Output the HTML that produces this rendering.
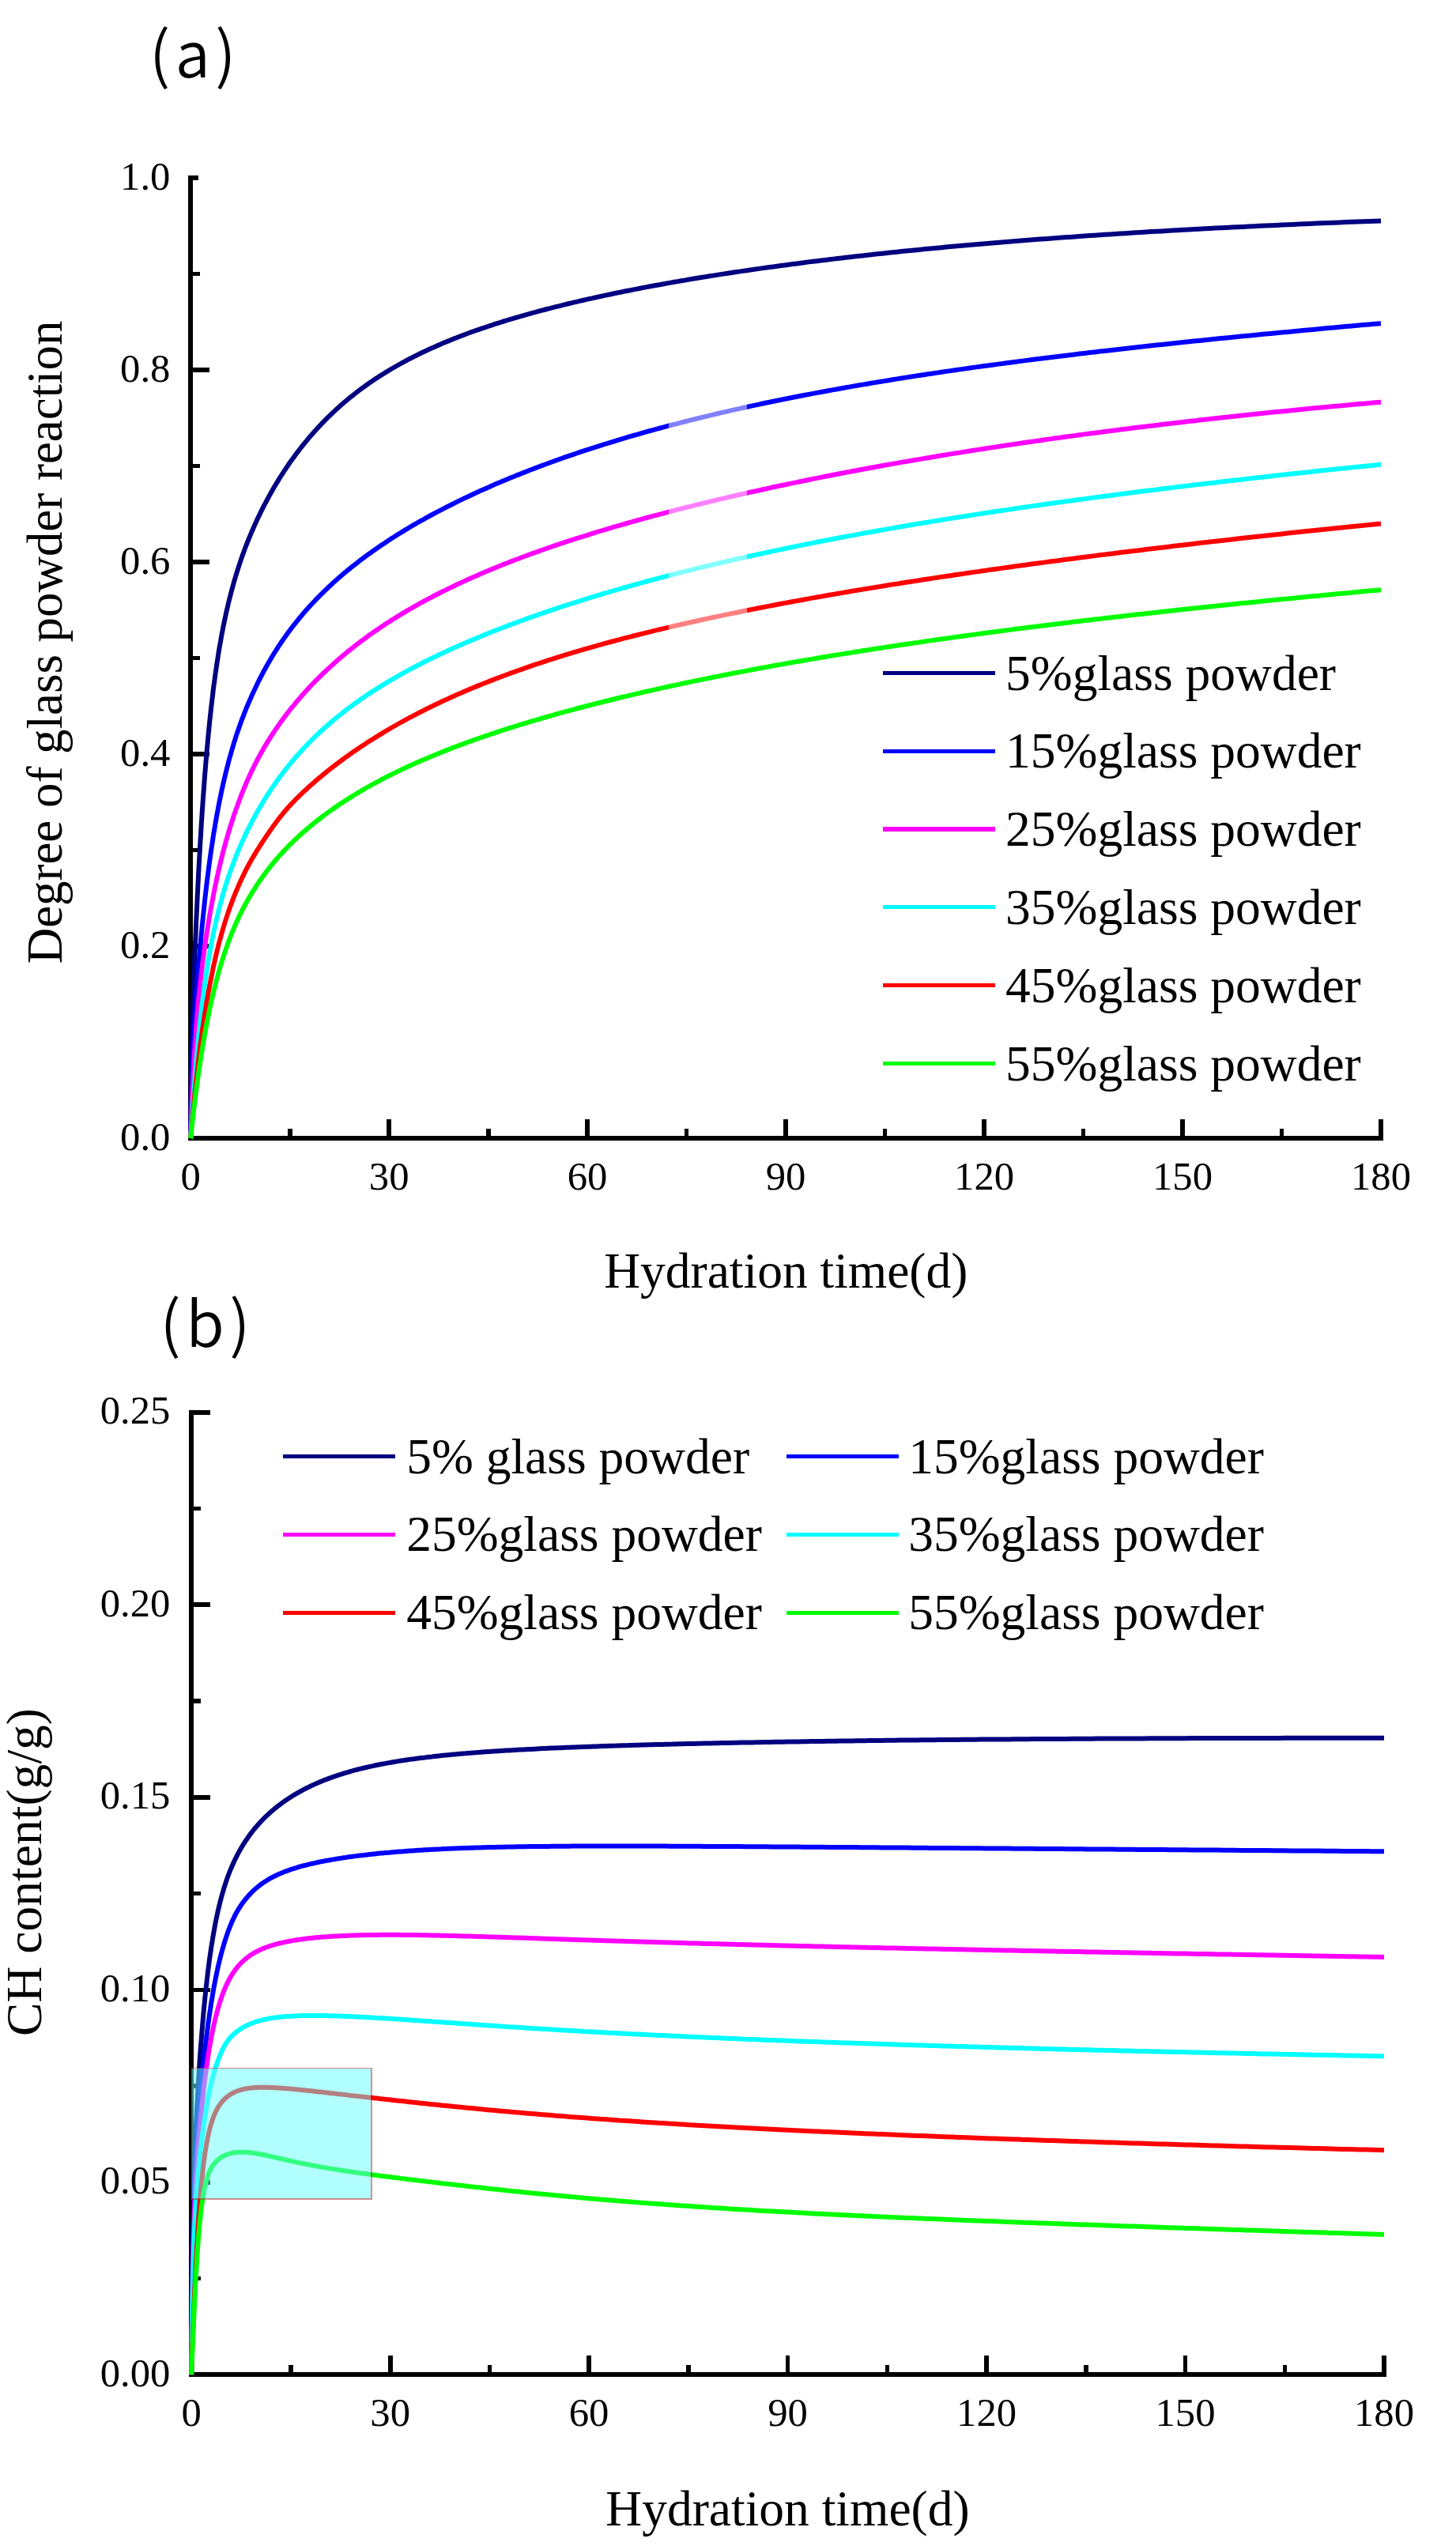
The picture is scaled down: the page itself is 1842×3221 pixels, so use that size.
<!DOCTYPE html>
<html lang="en"><head><meta charset="utf-8"><title>Glass powder hydration</title>
<style>html,body{margin:0;padding:0;background:#fff}svg{display:block}text{fill:#000}</style></head><body>
<svg width="1842" height="3221" viewBox="0 0 1842 3221">
<rect width="1842" height="3221" fill="#fff"/>
<g shape-rendering="crispEdges" fill="#000">
<rect x="238.3" y="222.1" width="5.8" height="1220.8"/>
<rect x="238.3" y="1437.1" width="1511.6" height="5.8"/>
<rect x="241.2" y="1437.2" width="24" height="5.6"/>
<rect x="241.2" y="1315.7" width="12" height="5.6"/>
<rect x="241.2" y="1194.2" width="24" height="5.6"/>
<rect x="241.2" y="1072.7" width="12" height="5.6"/>
<rect x="241.2" y="951.2" width="24" height="5.6"/>
<rect x="241.2" y="829.7" width="12" height="5.6"/>
<rect x="241.2" y="708.2" width="24" height="5.6"/>
<rect x="241.2" y="586.7" width="12" height="5.6"/>
<rect x="241.2" y="465.2" width="24" height="5.6"/>
<rect x="241.2" y="343.7" width="12" height="5.6"/>
<rect x="241.2" y="222.2" width="9.5" height="5.6"/>
<rect x="238.4" y="1416.0" width="5.6" height="24"/>
<rect x="363.9" y="1428.0" width="5.6" height="12"/>
<rect x="489.4" y="1416.0" width="5.6" height="24"/>
<rect x="614.9" y="1428.0" width="5.6" height="12"/>
<rect x="740.3" y="1416.0" width="5.6" height="24"/>
<rect x="865.8" y="1428.0" width="5.6" height="12"/>
<rect x="991.3" y="1416.0" width="5.6" height="24"/>
<rect x="1116.8" y="1428.0" width="5.6" height="12"/>
<rect x="1242.3" y="1416.0" width="5.6" height="24"/>
<rect x="1367.8" y="1428.0" width="5.6" height="12"/>
<rect x="1493.2" y="1416.0" width="5.6" height="24"/>
<rect x="1618.7" y="1428.0" width="5.6" height="12"/>
<rect x="1744.2" y="1416.0" width="5.6" height="24"/>
</g>
<g font-family="'Liberation Serif','Times New Roman',serif" font-size="50.7">
<text x="215.4" y="1455.2" text-anchor="end">0.0</text>
<text x="215.4" y="1212.2" text-anchor="end">0.2</text>
<text x="215.4" y="969.2" text-anchor="end">0.4</text>
<text x="215.4" y="726.2" text-anchor="end">0.6</text>
<text x="215.4" y="483.2" text-anchor="end">0.8</text>
<text x="215.4" y="240.2" text-anchor="end">1.0</text>
<text x="241.2" y="1504.7" text-anchor="middle">0</text>
<text x="492.2" y="1504.7" text-anchor="middle">30</text>
<text x="743.1" y="1504.7" text-anchor="middle">60</text>
<text x="994.1" y="1504.7" text-anchor="middle">90</text>
<text x="1245.1" y="1504.7" text-anchor="middle">120</text>
<text x="1496.0" y="1504.7" text-anchor="middle">150</text>
<text x="1747.0" y="1504.7" text-anchor="middle">180</text>
</g>
<g fill="none" stroke-width="6" stroke-linejoin="round">
<path d="M241.2 1440.0L241.2 1440.0L241.2 1439.8L241.2 1439.4L241.2 1438.9L241.2 1438.0L241.2 1436.9L241.2 1435.5L241.2 1433.7L241.3 1431.6L241.3 1429.2L241.3 1426.4L241.3 1423.3L241.4 1419.9L241.4 1416.1L241.4 1412.1L241.5 1407.8L241.5 1403.2L241.6 1398.3L241.6 1393.3L241.7 1388.1L241.7 1382.8L241.8 1377.3L241.9 1371.8L242.0 1366.1L242.0 1360.5L242.1 1354.8L242.2 1349.1L242.3 1343.4L242.4 1337.7L242.5 1332.1L242.6 1326.5L242.8 1320.9L242.9 1315.4L243.0 1309.9L243.2 1304.5L243.3 1299.0L243.5 1293.6L243.6 1288.1L243.8 1282.7L243.9 1277.2L244.1 1271.7L244.3 1266.2L244.5 1260.6L244.7 1255.0L244.9 1249.3L245.1 1243.6L245.3 1237.7L245.5 1231.8L245.7 1225.8L246.0 1219.7L246.2 1213.6L246.5 1207.4L246.7 1201.0L247.0 1194.7L247.3 1188.2L247.6 1181.6L247.8 1175.0L248.1 1168.4L248.4 1161.6L248.7 1154.8L249.1 1148.0L249.4 1141.1L249.7 1134.1L250.1 1127.1L250.4 1120.1L250.8 1113.0L251.1 1106.0L251.5 1098.9L251.9 1091.8L252.3 1084.6L252.7 1077.5L253.1 1070.4L253.5 1063.3L254.0 1056.1L254.4 1049.0L254.8 1041.9L255.3 1034.9L255.7 1027.8L256.2 1020.8L256.7 1013.8L257.2 1006.9L257.7 1000.0L258.2 993.1L258.7 986.3L259.2 979.5L259.8 972.8L260.3 966.2L260.9 959.6L261.4 953.0L262.0 946.6L262.6 940.1L263.2 933.8L263.8 927.5L264.4 921.3L265.0 915.2L265.6 909.1L266.3 903.1L266.9 897.2L267.6 891.3L268.3 885.6L269.0 879.9L269.6 874.3L270.3 868.7L271.1 863.3L271.8 857.9L272.5 852.6L273.3 847.3L274.0 842.2L274.8 837.1L275.6 832.1L276.3 827.1L277.1 822.3L277.9 817.5L278.8 812.8L279.6 808.1L280.4 803.5L281.3 799.0L282.1 794.6L283.0 790.2L283.9 785.9L284.8 781.6L285.7 777.4L286.6 773.3L287.6 769.2L288.5 765.2L289.4 761.2L290.4 757.3L291.4 753.5L292.4 749.6L293.4 745.9L294.4 742.2L295.4 738.5L296.4 734.9L297.5 731.3L298.5 727.8L299.6 724.3L300.7 720.8L301.8 717.4L302.9 714.1L304.0 710.7L305.1 707.4L306.2 704.1L307.4 700.9L308.6 697.7L309.7 694.5L310.9 691.4L312.1 688.3L313.3 685.2L314.6 682.2L315.8 679.1L317.1 676.1L318.3 673.2L319.6 670.2L320.9 667.3L322.2 664.3L323.5 661.5L324.8 658.6L326.1 655.7L327.5 652.9L328.9 650.1L330.2 647.2L331.6 644.5L333.0 641.7L334.4 638.9L335.9 636.2L337.3 633.5L338.8 630.8L340.2 628.1L341.7 625.4L343.2 622.7L344.7 620.1L346.2 617.4L347.8 614.8L349.3 612.2L350.9 609.6L352.4 607.1L354.0 604.5L355.6 602.0L357.3 599.4L358.9 596.9L360.5 594.4L362.2 592.0L363.8 589.5L365.5 587.0L367.2 584.6L368.9 582.2L370.7 579.8L372.4 577.4L374.1 575.0L375.9 572.6L377.7 570.3L379.5 568.0L381.3 565.7L383.1 563.4L384.9 561.1L386.8 558.8L388.7 556.6L390.5 554.3L392.4 552.1L394.3 549.9L396.3 547.7L398.2 545.5L400.1 543.4L402.1 541.2L404.1 539.1L406.1 537.0L408.1 534.9L410.1 532.8L412.2 530.7L414.2 528.7L416.3 526.7L418.4 524.6L420.5 522.6L422.6 520.6L424.7 518.7L426.8 516.7L429.0 514.8L431.2 512.8L433.3 510.9L435.5 509.0L437.8 507.2L440.0 505.3L442.2 503.4L444.5 501.6L446.8 499.8L449.1 498.0L451.4 496.2L453.7 494.4L456.0 492.7L458.4 490.9L460.8 489.2L463.1 487.5L465.5 485.8L468.0 484.1L470.4 482.4L472.8 480.8L475.3 479.1L477.8 477.5L480.3 475.9L482.8 474.3L485.3 472.7L487.8 471.1L490.4 469.6L493.0 468.0L495.5 466.5L498.2 465.0L500.8 463.5L503.4 462.0L506.1 460.5L508.7 459.0L511.4 457.6L514.1 456.1L516.8 454.7L519.6 453.3L522.3 451.9L525.1 450.5L527.8 449.1L530.6 447.7L533.5 446.3L536.3 445.0L539.1 443.7L542.0 442.3L544.9 441.0L547.8 439.7L550.7 438.4L553.6 437.1L556.6 435.9L559.5 434.6L562.5 433.3L565.5 432.1L568.5 430.9L571.5 429.6L574.6 428.4L577.6 427.2L580.7 426.0L583.8 424.8L586.9 423.7L590.0 422.5L593.2 421.3L596.3 420.2L599.5 419.0L602.7 417.9L605.9 416.8L609.2 415.7L612.4 414.6L615.7 413.5L619.0 412.4L622.3 411.3L625.6 410.2L628.9 409.1L632.3 408.1L635.6 407.0L639.0 406.0L642.4 404.9L645.8 403.9L649.3 402.9L652.7 401.8L656.2 400.8L659.7 399.8L663.2 398.8L666.7 397.8L670.3 396.8L673.8 395.8L677.4 394.9L681.0 393.9L684.6 392.9L688.3 392.0L691.9 391.0L695.6 390.1L699.3 389.1L703.0 388.2L706.7 387.3L710.4 386.3L714.2 385.4L718.0 384.5L721.7 383.6L725.6 382.7L729.4 381.8L733.2 380.9L737.1 380.0L741.0 379.1L744.9 378.2L748.8 377.4L752.7 376.5L756.7 375.6L760.7 374.8L764.7 373.9L768.7 373.0L772.7 372.2L776.8 371.3L780.8 370.5L784.9 369.7L789.0 368.8L793.1 368.0L797.3 367.2L801.4 366.4L805.6 365.6L809.8 364.7L814.0 363.9L818.2 363.1L822.5 362.3L826.8 361.5L831.1 360.7L835.4 360.0L839.7 359.2L844.0 358.4L848.4 357.6L852.8 356.8L857.2 356.1L861.6 355.3L866.1 354.6L870.5 353.8L875.0 353.0L879.5 352.3L884.0 351.5L888.6 350.8L893.1 350.1L897.7 349.3L902.3 348.6L906.9 347.9L911.5 347.1L916.2 346.4L920.8 345.7L925.5 345.0L930.2 344.3L935.0 343.6L939.7 342.9L944.5 342.2L949.3 341.5L954.1 340.8L958.9 340.1L963.8 339.4L968.6 338.7L973.5 338.0L978.4 337.4L983.3 336.7L988.3 336.0L993.2 335.4L998.2 334.7L1003.2 334.0L1008.3 333.4L1013.3 332.7L1018.4 332.1L1023.4 331.4L1028.5 330.8L1033.7 330.2L1038.8 329.5L1044.0 328.9L1049.2 328.3L1054.4 327.6L1059.6 327.0L1064.8 326.4L1070.1 325.8L1075.4 325.2L1080.7 324.6L1086.0 324.0L1091.3 323.4L1096.7 322.8L1102.1 322.2L1107.5 321.6L1112.9 321.0L1118.4 320.4L1123.8 319.8L1129.3 319.3L1134.8 318.7L1140.3 318.1L1145.9 317.6L1151.5 317.0L1157.0 316.4L1162.7 315.9L1168.3 315.3L1173.9 314.8L1179.6 314.2L1185.3 313.7L1191.0 313.2L1196.7 312.6L1202.5 312.1L1208.3 311.6L1214.1 311.0L1219.9 310.5L1225.7 310.0L1231.6 309.5L1237.4 309.0L1243.3 308.5L1249.3 308.0L1255.2 307.5L1261.2 307.0L1267.1 306.5L1273.2 306.0L1279.2 305.5L1285.2 305.0L1291.3 304.5L1297.4 304.0L1303.5 303.6L1309.6 303.1L1315.8 302.6L1321.9 302.2L1328.1 301.7L1334.3 301.2L1340.6 300.8L1346.8 300.3L1353.1 299.9L1359.4 299.4L1365.7 299.0L1372.1 298.6L1378.4 298.1L1384.8 297.7L1391.2 297.3L1397.7 296.8L1404.1 296.4L1410.6 296.0L1417.1 295.6L1423.6 295.2L1430.1 294.8L1436.7 294.3L1443.3 293.9L1449.9 293.5L1456.5 293.1L1463.1 292.8L1469.8 292.4L1476.5 292.0L1483.2 291.6L1489.9 291.2L1496.7 290.8L1503.5 290.5L1510.3 290.1L1517.1 289.7L1523.9 289.3L1530.8 289.0L1537.7 288.6L1544.6 288.3L1551.5 287.9L1558.5 287.6L1565.4 287.2L1572.4 286.9L1579.4 286.5L1586.5 286.2L1593.5 285.8L1600.6 285.5L1607.7 285.2L1614.9 284.9L1622.0 284.5L1629.2 284.2L1636.4 283.9L1643.6 283.6L1650.8 283.3L1658.1 282.9L1665.4 282.6L1672.7 282.3L1680.0 282.0L1687.4 281.7L1694.7 281.4L1702.1 281.1L1709.6 280.8L1717.0 280.6L1724.5 280.3L1732.0 280.0L1739.5 279.7L1747.0 279.4" stroke="#000080"/>
<path d="M241.2 1440.0L241.2 1440.0L241.2 1439.8L241.2 1439.6L241.2 1439.2L241.2 1438.5L241.2 1437.7L241.2 1436.6L241.2 1435.3L241.3 1433.7L241.3 1431.9L241.3 1429.9L241.3 1427.6L241.4 1425.0L241.4 1422.2L241.4 1419.3L241.5 1416.1L241.5 1412.7L241.6 1409.2L241.6 1405.5L241.7 1401.8L241.7 1397.9L241.8 1394.0L241.9 1390.1L242.0 1386.1L242.0 1382.1L242.1 1378.2L242.2 1374.3L242.3 1370.4L242.4 1366.6L242.5 1362.8L242.6 1359.1L242.8 1355.4L242.9 1351.8L243.0 1348.3L243.2 1344.8L243.3 1341.4L243.5 1338.0L243.6 1334.6L243.8 1331.3L243.9 1327.9L244.1 1324.6L244.3 1321.3L244.5 1317.9L244.7 1314.5L244.9 1311.1L245.1 1307.7L245.3 1304.2L245.5 1300.6L245.7 1297.0L246.0 1293.4L246.2 1289.7L246.5 1285.9L246.7 1282.1L247.0 1278.3L247.3 1274.3L247.6 1270.3L247.8 1266.3L248.1 1262.2L248.4 1258.0L248.7 1253.8L249.1 1249.5L249.4 1245.2L249.7 1240.9L250.1 1236.5L250.4 1232.0L250.8 1227.5L251.1 1223.0L251.5 1218.5L251.9 1213.9L252.3 1209.3L252.7 1204.6L253.1 1199.9L253.5 1195.2L254.0 1190.5L254.4 1185.8L254.8 1181.1L255.3 1176.3L255.7 1171.5L256.2 1166.7L256.7 1162.0L257.2 1157.2L257.7 1152.4L258.2 1147.6L258.7 1142.8L259.2 1138.0L259.8 1133.2L260.3 1128.5L260.9 1123.7L261.4 1119.0L262.0 1114.3L262.6 1109.5L263.2 1104.8L263.8 1100.2L264.4 1095.5L265.0 1090.9L265.6 1086.3L266.3 1081.7L266.9 1077.1L267.6 1072.6L268.3 1068.1L269.0 1063.6L269.6 1059.2L270.3 1054.7L271.1 1050.4L271.8 1046.0L272.5 1041.7L273.3 1037.4L274.0 1033.1L274.8 1028.9L275.6 1024.8L276.3 1020.6L277.1 1016.5L277.9 1012.4L278.8 1008.4L279.6 1004.4L280.4 1000.4L281.3 996.5L282.1 992.6L283.0 988.8L283.9 984.9L284.8 981.2L285.7 977.4L286.6 973.7L287.6 970.0L288.5 966.4L289.4 962.8L290.4 959.2L291.4 955.7L292.4 952.2L293.4 948.7L294.4 945.3L295.4 941.9L296.4 938.5L297.5 935.2L298.5 931.9L299.6 928.6L300.7 925.4L301.8 922.2L302.9 919.1L304.0 915.9L305.1 912.9L306.2 909.8L307.4 906.8L308.6 903.8L309.7 900.8L310.9 897.9L312.1 894.9L313.3 892.0L314.6 889.1L315.8 886.3L317.1 883.4L318.3 880.6L319.6 877.8L320.9 875.0L322.2 872.2L323.5 869.4L324.8 866.7L326.1 863.9L327.5 861.2L328.9 858.5L330.2 855.9L331.6 853.2L333.0 850.5L334.4 847.9L335.9 845.3L337.3 842.7L338.8 840.1L340.2 837.6L341.7 835.0L343.2 832.5L344.7 830.0L346.2 827.5L347.8 825.0L349.3 822.6L350.9 820.1L352.4 817.7L354.0 815.3L355.6 813.0L357.3 810.6L358.9 808.2L360.5 805.9L362.2 803.6L363.8 801.3L365.5 799.0L367.2 796.7L368.9 794.5L370.7 792.2L372.4 790.0L374.1 787.8L375.9 785.6L377.7 783.4L379.5 781.2L381.3 779.1L383.1 776.9L384.9 774.8L386.8 772.6L388.7 770.5L390.5 768.4L392.4 766.4L394.3 764.3L396.3 762.2L398.2 760.2L400.1 758.1L402.1 756.1L404.1 754.1L406.1 752.1L408.1 750.1L410.1 748.1L412.2 746.1L414.2 744.2L416.3 742.2L418.4 740.3L420.5 738.3L422.6 736.4L424.7 734.5L426.8 732.6L429.0 730.7L431.2 728.8L433.3 727.0L435.5 725.1L437.8 723.2L440.0 721.4L442.2 719.6L444.5 717.7L446.8 715.9L449.1 714.1L451.4 712.3L453.7 710.5L456.0 708.7L458.4 706.9L460.8 705.2L463.1 703.4L465.5 701.6L468.0 699.9L470.4 698.2L472.8 696.4L475.3 694.7L477.8 693.0L480.3 691.3L482.8 689.6L485.3 687.9L487.8 686.2L490.4 684.5L493.0 682.8L495.5 681.1L498.2 679.5L500.8 677.8L503.4 676.1L506.1 674.5L508.7 672.9L511.4 671.2L514.1 669.6L516.8 668.0L519.6 666.3L522.3 664.7L525.1 663.1L527.8 661.5L530.6 659.9L533.5 658.3L536.3 656.8L539.1 655.2L542.0 653.6L544.9 652.0L547.8 650.5L550.7 648.9L553.6 647.4L556.6 645.8L559.5 644.3L562.5 642.8L565.5 641.2L568.5 639.7L571.5 638.2L574.6 636.7L577.6 635.1L580.7 633.6L583.8 632.1L586.9 630.6L590.0 629.2L593.2 627.7L596.3 626.2L599.5 624.7L602.7 623.2L605.9 621.8L609.2 620.3L612.4 618.9L615.7 617.4L619.0 616.0L622.3 614.5L625.6 613.1L628.9 611.6L632.3 610.2L635.6 608.8L639.0 607.4L642.4 606.0L645.8 604.6L649.3 603.2L652.7 601.8L656.2 600.4L659.7 599.0L663.2 597.6L666.7 596.2L670.3 594.8L673.8 593.5L677.4 592.1L681.0 590.7L684.6 589.4L688.3 588.0L691.9 586.7L695.6 585.3L699.3 584.0L703.0 582.7L706.7 581.3L710.4 580.0L714.2 578.7L718.0 577.4L721.7 576.1L725.6 574.8L729.4 573.5L733.2 572.2L737.1 570.9L741.0 569.6L744.9 568.4L748.8 567.1L752.7 565.8L756.7 564.6L760.7 563.3L764.7 562.0L768.7 560.8L772.7 559.6L776.8 558.3L780.8 557.1L784.9 555.9L789.0 554.6L793.1 553.4L797.3 552.2L801.4 551.0L805.6 549.8L809.8 548.6L814.0 547.4L818.2 546.2L822.5 545.0L826.8 543.9L831.1 542.7L835.4 541.5L839.7 540.4L844.0 539.2L848.4 538.0L852.8 536.9L857.2 535.8L861.6 534.6L866.1 533.5L870.5 532.4L875.0 531.2L879.5 530.1L884.0 529.0L888.6 527.9L893.1 526.8L897.7 525.7L902.3 524.6L906.9 523.5L911.5 522.4L916.2 521.4L920.8 520.3L925.5 519.2L930.2 518.1L935.0 517.1L939.7 516.0L944.5 515.0L949.3 513.9L954.1 512.9L958.9 511.9L963.8 510.8L968.6 509.8L973.5 508.8L978.4 507.8L983.3 506.8L988.3 505.8L993.2 504.8L998.2 503.8L1003.2 502.8L1008.3 501.8L1013.3 500.8L1018.4 499.8L1023.4 498.9L1028.5 497.9L1033.7 496.9L1038.8 496.0L1044.0 495.0L1049.2 494.0L1054.4 493.1L1059.6 492.2L1064.8 491.2L1070.1 490.3L1075.4 489.4L1080.7 488.4L1086.0 487.5L1091.3 486.6L1096.7 485.7L1102.1 484.8L1107.5 483.9L1112.9 483.0L1118.4 482.1L1123.8 481.2L1129.3 480.3L1134.8 479.4L1140.3 478.5L1145.9 477.6L1151.5 476.8L1157.0 475.9L1162.7 475.0L1168.3 474.2L1173.9 473.3L1179.6 472.5L1185.3 471.6L1191.0 470.8L1196.7 469.9L1202.5 469.1L1208.3 468.2L1214.1 467.4L1219.9 466.6L1225.7 465.8L1231.6 464.9L1237.4 464.1L1243.3 463.3L1249.3 462.5L1255.2 461.7L1261.2 460.9L1267.1 460.1L1273.2 459.3L1279.2 458.5L1285.2 457.7L1291.3 456.9L1297.4 456.1L1303.5 455.3L1309.6 454.5L1315.8 453.8L1321.9 453.0L1328.1 452.2L1334.3 451.5L1340.6 450.7L1346.8 449.9L1353.1 449.2L1359.4 448.4L1365.7 447.6L1372.1 446.9L1378.4 446.1L1384.8 445.4L1391.2 444.6L1397.7 443.9L1404.1 443.2L1410.6 442.4L1417.1 441.7L1423.6 441.0L1430.1 440.2L1436.7 439.5L1443.3 438.8L1449.9 438.0L1456.5 437.3L1463.1 436.6L1469.8 435.9L1476.5 435.2L1483.2 434.5L1489.9 433.7L1496.7 433.0L1503.5 432.3L1510.3 431.6L1517.1 430.9L1523.9 430.2L1530.8 429.5L1537.7 428.8L1544.6 428.1L1551.5 427.4L1558.5 426.7L1565.4 426.0L1572.4 425.3L1579.4 424.7L1586.5 424.0L1593.5 423.3L1600.6 422.6L1607.7 421.9L1614.9 421.2L1622.0 420.5L1629.2 419.9L1636.4 419.2L1643.6 418.5L1650.8 417.8L1658.1 417.2L1665.4 416.5L1672.7 415.8L1680.0 415.1L1687.4 414.5L1694.7 413.8L1702.1 413.1L1709.6 412.5L1717.0 411.8L1724.5 411.1L1732.0 410.5L1739.5 409.8L1747.0 409.2" stroke="#0000FF"/>
<path d="M241.2 1440.0L241.2 1440.0L241.2 1440.0L241.2 1439.9L241.2 1439.7L241.2 1439.5L241.2 1439.3L241.2 1438.9L241.2 1438.5L241.3 1438.0L241.3 1437.4L241.3 1436.7L241.3 1435.9L241.4 1434.9L241.4 1433.9L241.4 1432.8L241.5 1431.6L241.5 1430.2L241.6 1428.8L241.6 1427.2L241.7 1425.5L241.7 1423.7L241.8 1421.8L241.9 1419.8L242.0 1417.6L242.0 1415.4L242.1 1413.0L242.2 1410.5L242.3 1408.0L242.4 1405.3L242.5 1402.5L242.6 1399.6L242.8 1396.7L242.9 1393.6L243.0 1390.5L243.2 1387.3L243.3 1384.0L243.5 1380.6L243.6 1377.1L243.8 1373.6L243.9 1370.1L244.1 1366.5L244.3 1362.8L244.5 1359.1L244.7 1355.3L244.9 1351.5L245.1 1347.7L245.3 1343.8L245.5 1339.9L245.7 1336.0L246.0 1332.1L246.2 1328.2L246.5 1324.2L246.7 1320.3L247.0 1316.3L247.3 1312.3L247.6 1308.4L247.8 1304.4L248.1 1300.4L248.4 1296.5L248.7 1292.5L249.1 1288.5L249.4 1284.6L249.7 1280.7L250.1 1276.7L250.4 1272.8L250.8 1268.9L251.1 1265.0L251.5 1261.1L251.9 1257.3L252.3 1253.4L252.7 1249.6L253.1 1245.7L253.5 1241.9L254.0 1238.1L254.4 1234.3L254.8 1230.5L255.3 1226.7L255.7 1222.9L256.2 1219.1L256.7 1215.4L257.2 1211.6L257.7 1207.8L258.2 1204.1L258.7 1200.4L259.2 1196.6L259.8 1192.9L260.3 1189.2L260.9 1185.5L261.4 1181.8L262.0 1178.1L262.6 1174.4L263.2 1170.7L263.8 1167.0L264.4 1163.3L265.0 1159.6L265.6 1156.0L266.3 1152.3L266.9 1148.7L267.6 1145.1L268.3 1141.4L269.0 1137.8L269.6 1134.2L270.3 1130.6L271.1 1127.0L271.8 1123.5L272.5 1119.9L273.3 1116.4L274.0 1112.8L274.8 1109.3L275.6 1105.8L276.3 1102.3L277.1 1098.8L277.9 1095.4L278.8 1091.9L279.6 1088.5L280.4 1085.1L281.3 1081.7L282.1 1078.3L283.0 1075.0L283.9 1071.7L284.8 1068.3L285.7 1065.1L286.6 1061.8L287.6 1058.5L288.5 1055.3L289.4 1052.1L290.4 1048.9L291.4 1045.7L292.4 1042.6L293.4 1039.5L294.4 1036.3L295.4 1033.3L296.4 1030.2L297.5 1027.2L298.5 1024.2L299.6 1021.2L300.7 1018.2L301.8 1015.2L302.9 1012.3L304.0 1009.3L305.1 1006.4L306.2 1003.5L307.4 1000.6L308.6 997.8L309.7 995.0L310.9 992.1L312.1 989.3L313.3 986.6L314.6 983.8L315.8 981.1L317.1 978.4L318.3 975.7L319.6 973.1L320.9 970.5L322.2 967.9L323.5 965.3L324.8 962.7L326.1 960.2L327.5 957.6L328.9 955.1L330.2 952.7L331.6 950.2L333.0 947.8L334.4 945.3L335.9 942.9L337.3 940.5L338.8 938.2L340.2 935.8L341.7 933.5L343.2 931.1L344.7 928.8L346.2 926.5L347.8 924.2L349.3 921.9L350.9 919.7L352.4 917.4L354.0 915.2L355.6 912.9L357.3 910.7L358.9 908.5L360.5 906.3L362.2 904.1L363.8 902.0L365.5 899.8L367.2 897.6L368.9 895.5L370.7 893.4L372.4 891.3L374.1 889.1L375.9 887.0L377.7 884.9L379.5 882.9L381.3 880.8L383.1 878.7L384.9 876.7L386.8 874.6L388.7 872.6L390.5 870.6L392.4 868.5L394.3 866.5L396.3 864.5L398.2 862.5L400.1 860.5L402.1 858.6L404.1 856.6L406.1 854.6L408.1 852.7L410.1 850.7L412.2 848.8L414.2 846.9L416.3 845.0L418.4 843.1L420.5 841.2L422.6 839.3L424.7 837.4L426.8 835.5L429.0 833.6L431.2 831.8L433.3 829.9L435.5 828.1L437.8 826.2L440.0 824.4L442.2 822.6L444.5 820.8L446.8 819.0L449.1 817.2L451.4 815.4L453.7 813.6L456.0 811.8L458.4 810.1L460.8 808.3L463.1 806.6L465.5 804.8L468.0 803.1L470.4 801.4L472.8 799.6L475.3 797.9L477.8 796.2L480.3 794.5L482.8 792.8L485.3 791.2L487.8 789.5L490.4 787.8L493.0 786.2L495.5 784.5L498.2 782.9L500.8 781.2L503.4 779.6L506.1 778.0L508.7 776.4L511.4 774.8L514.1 773.2L516.8 771.6L519.6 770.0L522.3 768.4L525.1 766.8L527.8 765.3L530.6 763.7L533.5 762.2L536.3 760.6L539.1 759.1L542.0 757.6L544.9 756.1L547.8 754.5L550.7 753.0L553.6 751.5L556.6 750.0L559.5 748.5L562.5 747.1L565.5 745.6L568.5 744.1L571.5 742.7L574.6 741.2L577.6 739.8L580.7 738.3L583.8 736.9L586.9 735.4L590.0 734.0L593.2 732.6L596.3 731.2L599.5 729.8L602.7 728.4L605.9 727.0L609.2 725.6L612.4 724.2L615.7 722.8L619.0 721.4L622.3 720.1L625.6 718.7L628.9 717.3L632.3 716.0L635.6 714.6L639.0 713.3L642.4 712.0L645.8 710.6L649.3 709.3L652.7 708.0L656.2 706.7L659.7 705.3L663.2 704.0L666.7 702.7L670.3 701.4L673.8 700.1L677.4 698.9L681.0 697.6L684.6 696.3L688.3 695.0L691.9 693.7L695.6 692.5L699.3 691.2L703.0 689.9L706.7 688.7L710.4 687.4L714.2 686.2L718.0 684.9L721.7 683.7L725.6 682.5L729.4 681.2L733.2 680.0L737.1 678.8L741.0 677.6L744.9 676.3L748.8 675.1L752.7 673.9L756.7 672.7L760.7 671.5L764.7 670.3L768.7 669.1L772.7 667.9L776.8 666.7L780.8 665.5L784.9 664.4L789.0 663.2L793.1 662.0L797.3 660.8L801.4 659.7L805.6 658.5L809.8 657.3L814.0 656.2L818.2 655.0L822.5 653.9L826.8 652.7L831.1 651.6L835.4 650.4L839.7 649.3L844.0 648.1L848.4 647.0L852.8 645.9L857.2 644.7L861.6 643.6L866.1 642.5L870.5 641.4L875.0 640.3L879.5 639.1L884.0 638.0L888.6 636.9L893.1 635.8L897.7 634.7L902.3 633.6L906.9 632.5L911.5 631.4L916.2 630.3L920.8 629.2L925.5 628.1L930.2 627.0L935.0 626.0L939.7 624.9L944.5 623.8L949.3 622.7L954.1 621.7L958.9 620.6L963.8 619.5L968.6 618.5L973.5 617.4L978.4 616.3L983.3 615.3L988.3 614.2L993.2 613.2L998.2 612.1L1003.2 611.1L1008.3 610.1L1013.3 609.0L1018.4 608.0L1023.4 607.0L1028.5 605.9L1033.7 604.9L1038.8 603.9L1044.0 602.8L1049.2 601.8L1054.4 600.8L1059.6 599.8L1064.8 598.8L1070.1 597.8L1075.4 596.8L1080.7 595.8L1086.0 594.8L1091.3 593.8L1096.7 592.8L1102.1 591.8L1107.5 590.8L1112.9 589.8L1118.4 588.8L1123.8 587.8L1129.3 586.9L1134.8 585.9L1140.3 584.9L1145.9 584.0L1151.5 583.0L1157.0 582.0L1162.7 581.1L1168.3 580.1L1173.9 579.2L1179.6 578.2L1185.3 577.3L1191.0 576.3L1196.7 575.4L1202.5 574.4L1208.3 573.5L1214.1 572.6L1219.9 571.6L1225.7 570.7L1231.6 569.8L1237.4 568.9L1243.3 568.0L1249.3 567.0L1255.2 566.1L1261.2 565.2L1267.1 564.3L1273.2 563.4L1279.2 562.5L1285.2 561.6L1291.3 560.7L1297.4 559.8L1303.5 559.0L1309.6 558.1L1315.8 557.2L1321.9 556.3L1328.1 555.4L1334.3 554.6L1340.6 553.7L1346.8 552.8L1353.1 552.0L1359.4 551.1L1365.7 550.3L1372.1 549.4L1378.4 548.6L1384.8 547.7L1391.2 546.9L1397.7 546.1L1404.1 545.2L1410.6 544.4L1417.1 543.6L1423.6 542.7L1430.1 541.9L1436.7 541.1L1443.3 540.3L1449.9 539.5L1456.5 538.7L1463.1 537.9L1469.8 537.1L1476.5 536.3L1483.2 535.5L1489.9 534.7L1496.7 533.9L1503.5 533.1L1510.3 532.4L1517.1 531.6L1523.9 530.8L1530.8 530.1L1537.7 529.3L1544.6 528.5L1551.5 527.8L1558.5 527.0L1565.4 526.3L1572.4 525.5L1579.4 524.8L1586.5 524.0L1593.5 523.3L1600.6 522.6L1607.7 521.8L1614.9 521.1L1622.0 520.4L1629.2 519.7L1636.4 519.0L1643.6 518.3L1650.8 517.5L1658.1 516.8L1665.4 516.1L1672.7 515.4L1680.0 514.8L1687.4 514.1L1694.7 513.4L1702.1 512.7L1709.6 512.0L1717.0 511.3L1724.5 510.7L1732.0 510.0L1739.5 509.3L1747.0 508.7" stroke="#FF00FF"/>
<path d="M241.2 1440.0L241.2 1440.0L241.2 1440.0L241.2 1439.9L241.2 1439.9L241.2 1439.8L241.2 1439.6L241.2 1439.4L241.2 1439.2L241.3 1438.9L241.3 1438.6L241.3 1438.2L241.3 1437.8L241.4 1437.3L241.4 1436.8L241.4 1436.2L241.5 1435.5L241.5 1434.8L241.6 1434.0L241.6 1433.1L241.7 1432.2L241.7 1431.2L241.8 1430.1L241.9 1429.0L242.0 1427.8L242.0 1426.5L242.1 1425.1L242.2 1423.7L242.3 1422.2L242.4 1420.6L242.5 1418.9L242.6 1417.2L242.8 1415.4L242.9 1413.5L243.0 1411.5L243.2 1409.5L243.3 1407.4L243.5 1405.2L243.6 1403.0L243.8 1400.7L243.9 1398.3L244.1 1395.8L244.3 1393.3L244.5 1390.7L244.7 1388.0L244.9 1385.3L245.1 1382.5L245.3 1379.6L245.5 1376.7L245.7 1373.7L246.0 1370.7L246.2 1367.6L246.5 1364.4L246.7 1361.2L247.0 1358.0L247.3 1354.7L247.6 1351.3L247.8 1347.9L248.1 1344.5L248.4 1341.0L248.7 1337.5L249.1 1334.0L249.4 1330.4L249.7 1326.8L250.1 1323.2L250.4 1319.5L250.8 1315.8L251.1 1312.1L251.5 1308.4L251.9 1304.6L252.3 1300.8L252.7 1297.1L253.1 1293.3L253.5 1289.5L254.0 1285.7L254.4 1281.9L254.8 1278.0L255.3 1274.2L255.7 1270.4L256.2 1266.6L256.7 1262.8L257.2 1259.0L257.7 1255.2L258.2 1251.4L258.7 1247.6L259.2 1243.8L259.8 1240.1L260.3 1236.3L260.9 1232.6L261.4 1228.9L262.0 1225.2L262.6 1221.5L263.2 1217.9L263.8 1214.3L264.4 1210.6L265.0 1207.1L265.6 1203.5L266.3 1199.9L266.9 1196.4L267.6 1192.9L268.3 1189.5L269.0 1186.0L269.6 1182.6L270.3 1179.2L271.1 1175.8L271.8 1172.5L272.5 1169.2L273.3 1165.9L274.0 1162.6L274.8 1159.4L275.6 1156.2L276.3 1153.0L277.1 1149.8L277.9 1146.7L278.8 1143.6L279.6 1140.5L280.4 1137.4L281.3 1134.4L282.1 1131.3L283.0 1128.4L283.9 1125.4L284.8 1122.4L285.7 1119.5L286.6 1116.6L287.6 1113.7L288.5 1110.9L289.4 1108.0L290.4 1105.2L291.4 1102.4L292.4 1099.7L293.4 1096.9L294.4 1094.2L295.4 1091.5L296.4 1088.8L297.5 1086.1L298.5 1083.4L299.6 1080.8L300.7 1078.2L301.8 1075.5L302.9 1072.9L304.0 1070.4L305.1 1067.8L306.2 1065.2L307.4 1062.7L308.6 1060.2L309.7 1057.6L310.9 1055.1L312.1 1052.6L313.3 1050.2L314.6 1047.7L315.8 1045.2L317.1 1042.8L318.3 1040.3L319.6 1037.9L320.9 1035.5L322.2 1033.1L323.5 1030.7L324.8 1028.3L326.1 1025.9L327.5 1023.6L328.9 1021.2L330.2 1018.9L331.6 1016.6L333.0 1014.2L334.4 1011.9L335.9 1009.6L337.3 1007.4L338.8 1005.1L340.2 1002.8L341.7 1000.6L343.2 998.3L344.7 996.1L346.2 993.9L347.8 991.7L349.3 989.5L350.9 987.3L352.4 985.1L354.0 983.0L355.6 980.8L357.3 978.7L358.9 976.6L360.5 974.4L362.2 972.3L363.8 970.2L365.5 968.1L367.2 966.1L368.9 964.0L370.7 962.0L372.4 959.9L374.1 957.9L375.9 955.9L377.7 953.9L379.5 951.9L381.3 949.9L383.1 947.9L384.9 945.9L386.8 944.0L388.7 942.0L390.5 940.1L392.4 938.2L394.3 936.2L396.3 934.3L398.2 932.4L400.1 930.6L402.1 928.7L404.1 926.8L406.1 925.0L408.1 923.1L410.1 921.3L412.2 919.5L414.2 917.7L416.3 915.9L418.4 914.1L420.5 912.3L422.6 910.5L424.7 908.8L426.8 907.0L429.0 905.3L431.2 903.5L433.3 901.8L435.5 900.1L437.8 898.4L440.0 896.7L442.2 895.0L444.5 893.3L446.8 891.6L449.1 890.0L451.4 888.3L453.7 886.7L456.0 885.0L458.4 883.4L460.8 881.8L463.1 880.1L465.5 878.5L468.0 876.9L470.4 875.3L472.8 873.8L475.3 872.2L477.8 870.6L480.3 869.1L482.8 867.5L485.3 866.0L487.8 864.4L490.4 862.9L493.0 861.3L495.5 859.8L498.2 858.3L500.8 856.8L503.4 855.3L506.1 853.8L508.7 852.3L511.4 850.8L514.1 849.4L516.8 847.9L519.6 846.4L522.3 845.0L525.1 843.5L527.8 842.0L530.6 840.6L533.5 839.2L536.3 837.7L539.1 836.3L542.0 834.9L544.9 833.5L547.8 832.0L550.7 830.6L553.6 829.2L556.6 827.8L559.5 826.4L562.5 825.0L565.5 823.7L568.5 822.3L571.5 820.9L574.6 819.5L577.6 818.2L580.7 816.8L583.8 815.4L586.9 814.1L590.0 812.7L593.2 811.4L596.3 810.0L599.5 808.7L602.7 807.4L605.9 806.0L609.2 804.7L612.4 803.4L615.7 802.1L619.0 800.7L622.3 799.4L625.6 798.1L628.9 796.8L632.3 795.5L635.6 794.2L639.0 792.9L642.4 791.6L645.8 790.3L649.3 789.0L652.7 787.8L656.2 786.5L659.7 785.2L663.2 783.9L666.7 782.7L670.3 781.4L673.8 780.1L677.4 778.9L681.0 777.6L684.6 776.4L688.3 775.1L691.9 773.9L695.6 772.6L699.3 771.4L703.0 770.1L706.7 768.9L710.4 767.7L714.2 766.4L718.0 765.2L721.7 764.0L725.6 762.8L729.4 761.5L733.2 760.3L737.1 759.1L741.0 757.9L744.9 756.7L748.8 755.5L752.7 754.3L756.7 753.1L760.7 751.9L764.7 750.7L768.7 749.5L772.7 748.3L776.8 747.2L780.8 746.0L784.9 744.8L789.0 743.6L793.1 742.5L797.3 741.3L801.4 740.1L805.6 739.0L809.8 737.8L814.0 736.7L818.2 735.5L822.5 734.4L826.8 733.2L831.1 732.1L835.4 730.9L839.7 729.8L844.0 728.7L848.4 727.5L852.8 726.4L857.2 725.3L861.6 724.2L866.1 723.1L870.5 721.9L875.0 720.8L879.5 719.7L884.0 718.6L888.6 717.5L893.1 716.4L897.7 715.3L902.3 714.2L906.9 713.1L911.5 712.0L916.2 711.0L920.8 709.9L925.5 708.8L930.2 707.7L935.0 706.6L939.7 705.6L944.5 704.5L949.3 703.4L954.1 702.4L958.9 701.3L963.8 700.3L968.6 699.2L973.5 698.2L978.4 697.1L983.3 696.1L988.3 695.1L993.2 694.0L998.2 693.0L1003.2 692.0L1008.3 690.9L1013.3 689.9L1018.4 688.9L1023.4 687.9L1028.5 686.9L1033.7 685.8L1038.8 684.8L1044.0 683.8L1049.2 682.8L1054.4 681.8L1059.6 680.8L1064.8 679.8L1070.1 678.8L1075.4 677.9L1080.7 676.9L1086.0 675.9L1091.3 674.9L1096.7 673.9L1102.1 673.0L1107.5 672.0L1112.9 671.0L1118.4 670.1L1123.8 669.1L1129.3 668.1L1134.8 667.2L1140.3 666.2L1145.9 665.3L1151.5 664.3L1157.0 663.4L1162.7 662.4L1168.3 661.5L1173.9 660.6L1179.6 659.6L1185.3 658.7L1191.0 657.8L1196.7 656.9L1202.5 655.9L1208.3 655.0L1214.1 654.1L1219.9 653.2L1225.7 652.3L1231.6 651.4L1237.4 650.4L1243.3 649.5L1249.3 648.6L1255.2 647.7L1261.2 646.8L1267.1 646.0L1273.2 645.1L1279.2 644.2L1285.2 643.3L1291.3 642.4L1297.4 641.5L1303.5 640.6L1309.6 639.8L1315.8 638.9L1321.9 638.0L1328.1 637.1L1334.3 636.3L1340.6 635.4L1346.8 634.5L1353.1 633.7L1359.4 632.8L1365.7 632.0L1372.1 631.1L1378.4 630.3L1384.8 629.4L1391.2 628.6L1397.7 627.7L1404.1 626.9L1410.6 626.0L1417.1 625.2L1423.6 624.3L1430.1 623.5L1436.7 622.7L1443.3 621.8L1449.9 621.0L1456.5 620.2L1463.1 619.4L1469.8 618.5L1476.5 617.7L1483.2 616.9L1489.9 616.1L1496.7 615.3L1503.5 614.4L1510.3 613.6L1517.1 612.8L1523.9 612.0L1530.8 611.2L1537.7 610.4L1544.6 609.6L1551.5 608.8L1558.5 608.0L1565.4 607.2L1572.4 606.4L1579.4 605.6L1586.5 604.8L1593.5 604.0L1600.6 603.2L1607.7 602.4L1614.9 601.6L1622.0 600.8L1629.2 600.0L1636.4 599.3L1643.6 598.5L1650.8 597.7L1658.1 596.9L1665.4 596.1L1672.7 595.3L1680.0 594.6L1687.4 593.8L1694.7 593.0L1702.1 592.2L1709.6 591.5L1717.0 590.7L1724.5 589.9L1732.0 589.2L1739.5 588.4L1747.0 587.6" stroke="#00FFFF"/>
<path d="M241.2 1440.0L241.2 1440.0L241.2 1440.0L241.2 1439.9L241.2 1439.9L241.2 1439.8L241.2 1439.7L241.2 1439.6L241.2 1439.4L241.3 1439.2L241.3 1439.0L241.3 1438.7L241.3 1438.4L241.4 1438.0L241.4 1437.6L241.4 1437.2L241.5 1436.7L241.5 1436.2L241.6 1435.6L241.6 1435.0L241.7 1434.3L241.7 1433.5L241.8 1432.8L241.9 1431.9L242.0 1431.0L242.0 1430.1L242.1 1429.1L242.2 1428.0L242.3 1426.9L242.4 1425.7L242.5 1424.5L242.6 1423.2L242.8 1421.9L242.9 1420.4L243.0 1419.0L243.2 1417.5L243.3 1415.9L243.5 1414.2L243.6 1412.5L243.8 1410.8L243.9 1409.0L244.1 1407.1L244.3 1405.2L244.5 1403.2L244.7 1401.1L244.9 1399.0L245.1 1396.9L245.3 1394.7L245.5 1392.4L245.7 1390.1L246.0 1387.7L246.2 1385.3L246.5 1382.9L246.7 1380.3L247.0 1377.8L247.3 1375.2L247.6 1372.5L247.8 1369.8L248.1 1367.1L248.4 1364.3L248.7 1361.5L249.1 1358.6L249.4 1355.7L249.7 1352.7L250.1 1349.8L250.4 1346.7L250.8 1343.7L251.1 1340.6L251.5 1337.5L251.9 1334.4L252.3 1331.2L252.7 1328.0L253.1 1324.8L253.5 1321.6L254.0 1318.3L254.4 1315.1L254.8 1311.8L255.3 1308.5L255.7 1305.2L256.2 1301.8L256.7 1298.5L257.2 1295.1L257.7 1291.8L258.2 1288.4L258.7 1285.0L259.2 1281.6L259.8 1278.3L260.3 1274.9L260.9 1271.5L261.4 1268.1L262.0 1264.7L262.6 1261.3L263.2 1258.0L263.8 1254.6L264.4 1251.2L265.0 1247.9L265.6 1244.5L266.3 1241.2L266.9 1237.9L267.6 1234.6L268.3 1231.3L269.0 1228.0L269.6 1224.7L270.3 1221.5L271.1 1218.2L271.8 1215.0L272.5 1211.8L273.3 1208.6L274.0 1205.5L274.8 1202.3L275.6 1199.2L276.3 1196.1L277.1 1193.0L277.9 1190.0L278.8 1186.9L279.6 1183.9L280.4 1180.9L281.3 1177.9L282.1 1175.0L283.0 1172.0L283.9 1169.1L284.8 1166.2L285.7 1163.4L286.6 1160.5L287.6 1157.7L288.5 1154.9L289.4 1152.1L290.4 1149.4L291.4 1146.6L292.4 1143.9L293.4 1141.3L294.4 1138.6L295.4 1135.9L296.4 1133.3L297.5 1130.7L298.5 1128.2L299.6 1125.6L300.7 1123.1L301.8 1120.5L302.9 1118.1L304.0 1115.6L305.1 1113.1L306.2 1110.7L307.4 1108.3L308.6 1105.9L309.7 1103.5L310.9 1101.1L312.1 1098.8L313.3 1096.5L314.6 1094.2L315.8 1091.9L317.1 1089.7L318.3 1087.4L319.6 1085.2L320.9 1083.1L322.2 1080.9L323.5 1078.7L324.8 1076.6L326.1 1074.5L327.5 1072.3L328.9 1070.2L330.2 1068.1L331.6 1065.9L333.0 1063.8L334.4 1061.7L335.9 1059.5L337.3 1057.4L338.8 1055.2L340.2 1053.1L341.7 1050.9L343.2 1048.8L344.7 1046.6L346.2 1044.5L347.8 1042.4L349.3 1040.3L350.9 1038.2L352.4 1036.1L354.0 1034.1L355.6 1032.1L357.3 1030.1L358.9 1028.1L360.5 1026.1L362.2 1024.2L363.8 1022.3L365.5 1020.5L367.2 1018.6L368.9 1016.8L370.7 1015.0L372.4 1013.2L374.1 1011.4L375.9 1009.6L377.7 1007.9L379.5 1006.1L381.3 1004.4L383.1 1002.6L384.9 1000.9L386.8 999.2L388.7 997.5L390.5 995.8L392.4 994.1L394.3 992.4L396.3 990.7L398.2 989.0L400.1 987.3L402.1 985.6L404.1 983.9L406.1 982.3L408.1 980.6L410.1 979.0L412.2 977.3L414.2 975.7L416.3 974.0L418.4 972.4L420.5 970.7L422.6 969.1L424.7 967.5L426.8 965.9L429.0 964.2L431.2 962.6L433.3 961.0L435.5 959.4L437.8 957.8L440.0 956.2L442.2 954.6L444.5 953.0L446.8 951.4L449.1 949.8L451.4 948.2L453.7 946.7L456.0 945.1L458.4 943.5L460.8 942.0L463.1 940.4L465.5 938.8L468.0 937.3L470.4 935.7L472.8 934.2L475.3 932.7L477.8 931.1L480.3 929.6L482.8 928.1L485.3 926.5L487.8 925.0L490.4 923.5L493.0 922.0L495.5 920.5L498.2 919.0L500.8 917.5L503.4 916.0L506.1 914.5L508.7 913.1L511.4 911.6L514.1 910.1L516.8 908.7L519.6 907.2L522.3 905.8L525.1 904.3L527.8 902.9L530.6 901.4L533.5 900.0L536.3 898.6L539.1 897.1L542.0 895.7L544.9 894.3L547.8 892.9L550.7 891.5L553.6 890.1L556.6 888.7L559.5 887.3L562.5 885.9L565.5 884.6L568.5 883.2L571.5 881.8L574.6 880.4L577.6 879.1L580.7 877.7L583.8 876.4L586.9 875.0L590.0 873.7L593.2 872.4L596.3 871.1L599.5 869.7L602.7 868.4L605.9 867.1L609.2 865.8L612.4 864.5L615.7 863.2L619.0 861.9L622.3 860.6L625.6 859.3L628.9 858.1L632.3 856.8L635.6 855.5L639.0 854.3L642.4 853.0L645.8 851.7L649.3 850.5L652.7 849.3L656.2 848.0L659.7 846.8L663.2 845.6L666.7 844.3L670.3 843.1L673.8 841.9L677.4 840.7L681.0 839.5L684.6 838.3L688.3 837.1L691.9 835.9L695.6 834.7L699.3 833.6L703.0 832.4L706.7 831.2L710.4 830.1L714.2 828.9L718.0 827.7L721.7 826.6L725.6 825.4L729.4 824.3L733.2 823.2L737.1 822.0L741.0 820.9L744.9 819.8L748.8 818.7L752.7 817.6L756.7 816.4L760.7 815.3L764.7 814.2L768.7 813.1L772.7 812.0L776.8 811.0L780.8 809.9L784.9 808.8L789.0 807.7L793.1 806.6L797.3 805.6L801.4 804.5L805.6 803.5L809.8 802.4L814.0 801.3L818.2 800.3L822.5 799.3L826.8 798.2L831.1 797.2L835.4 796.1L839.7 795.1L844.0 794.1L848.4 793.1L852.8 792.0L857.2 791.0L861.6 790.0L866.1 789.0L870.5 788.0L875.0 787.0L879.5 786.0L884.0 785.0L888.6 784.0L893.1 783.0L897.7 782.0L902.3 781.0L906.9 780.1L911.5 779.1L916.2 778.1L920.8 777.1L925.5 776.2L930.2 775.2L935.0 774.2L939.7 773.3L944.5 772.3L949.3 771.4L954.1 770.4L958.9 769.5L963.8 768.5L968.6 767.6L973.5 766.6L978.4 765.7L983.3 764.8L988.3 763.8L993.2 762.9L998.2 762.0L1003.2 761.0L1008.3 760.1L1013.3 759.2L1018.4 758.3L1023.4 757.4L1028.5 756.4L1033.7 755.5L1038.8 754.6L1044.0 753.7L1049.2 752.8L1054.4 751.9L1059.6 751.0L1064.8 750.1L1070.1 749.2L1075.4 748.3L1080.7 747.4L1086.0 746.5L1091.3 745.6L1096.7 744.7L1102.1 743.9L1107.5 743.0L1112.9 742.1L1118.4 741.2L1123.8 740.3L1129.3 739.4L1134.8 738.6L1140.3 737.7L1145.9 736.8L1151.5 736.0L1157.0 735.1L1162.7 734.2L1168.3 733.3L1173.9 732.5L1179.6 731.6L1185.3 730.8L1191.0 729.9L1196.7 729.0L1202.5 728.2L1208.3 727.3L1214.1 726.5L1219.9 725.6L1225.7 724.8L1231.6 723.9L1237.4 723.1L1243.3 722.2L1249.3 721.4L1255.2 720.5L1261.2 719.7L1267.1 718.9L1273.2 718.0L1279.2 717.2L1285.2 716.3L1291.3 715.5L1297.4 714.7L1303.5 713.8L1309.6 713.0L1315.8 712.2L1321.9 711.4L1328.1 710.5L1334.3 709.7L1340.6 708.9L1346.8 708.1L1353.1 707.2L1359.4 706.4L1365.7 705.6L1372.1 704.8L1378.4 704.0L1384.8 703.1L1391.2 702.3L1397.7 701.5L1404.1 700.7L1410.6 699.9L1417.1 699.1L1423.6 698.3L1430.1 697.5L1436.7 696.7L1443.3 695.9L1449.9 695.1L1456.5 694.3L1463.1 693.5L1469.8 692.7L1476.5 691.9L1483.2 691.1L1489.9 690.3L1496.7 689.5L1503.5 688.7L1510.3 687.9L1517.1 687.1L1523.9 686.3L1530.8 685.5L1537.7 684.7L1544.6 683.9L1551.5 683.2L1558.5 682.4L1565.4 681.6L1572.4 680.8L1579.4 680.0L1586.5 679.3L1593.5 678.5L1600.6 677.7L1607.7 676.9L1614.9 676.2L1622.0 675.4L1629.2 674.6L1636.4 673.8L1643.6 673.1L1650.8 672.3L1658.1 671.5L1665.4 670.8L1672.7 670.0L1680.0 669.3L1687.4 668.5L1694.7 667.7L1702.1 667.0L1709.6 666.2L1717.0 665.5L1724.5 664.7L1732.0 664.0L1739.5 663.2L1747.0 662.5" stroke="#FF0000"/>
<path d="M241.2 1440.0L241.2 1440.0L241.2 1440.0L241.2 1440.0L241.2 1439.9L241.2 1439.9L241.2 1439.8L241.2 1439.7L241.2 1439.5L241.3 1439.4L241.3 1439.2L241.3 1439.0L241.3 1438.7L241.4 1438.4L241.4 1438.1L241.4 1437.8L241.5 1437.4L241.5 1436.9L241.6 1436.5L241.6 1436.0L241.7 1435.4L241.7 1434.8L241.8 1434.2L241.9 1433.5L242.0 1432.8L242.0 1432.0L242.1 1431.2L242.2 1430.3L242.3 1429.4L242.4 1428.5L242.5 1427.5L242.6 1426.5L242.8 1425.4L242.9 1424.2L243.0 1423.0L243.2 1421.8L243.3 1420.5L243.5 1419.2L243.6 1417.8L243.8 1416.4L243.9 1414.9L244.1 1413.4L244.3 1411.8L244.5 1410.2L244.7 1408.5L244.9 1406.8L245.1 1405.0L245.3 1403.2L245.5 1401.4L245.7 1399.5L246.0 1397.5L246.2 1395.5L246.5 1393.5L246.7 1391.4L247.0 1389.3L247.3 1387.1L247.6 1384.9L247.8 1382.7L248.1 1380.4L248.4 1378.1L248.7 1375.7L249.1 1373.3L249.4 1370.9L249.7 1368.4L250.1 1365.9L250.4 1363.4L250.8 1360.8L251.1 1358.2L251.5 1355.6L251.9 1353.0L252.3 1350.3L252.7 1347.6L253.1 1344.8L253.5 1342.1L254.0 1339.3L254.4 1336.5L254.8 1333.7L255.3 1330.9L255.7 1328.0L256.2 1325.1L256.7 1322.2L257.2 1319.3L257.7 1316.4L258.2 1313.5L258.7 1310.6L259.2 1307.6L259.8 1304.7L260.3 1301.7L260.9 1298.7L261.4 1295.8L262.0 1292.8L262.6 1289.8L263.2 1286.8L263.8 1283.8L264.4 1280.9L265.0 1277.9L265.6 1274.9L266.3 1271.9L266.9 1269.0L267.6 1266.0L268.3 1263.0L269.0 1260.1L269.6 1257.2L270.3 1254.2L271.1 1251.3L271.8 1248.4L272.5 1245.5L273.3 1242.6L274.0 1239.7L274.8 1236.8L275.6 1234.0L276.3 1231.2L277.1 1228.3L277.9 1225.5L278.8 1222.7L279.6 1219.9L280.4 1217.2L281.3 1214.4L282.1 1211.7L283.0 1209.0L283.9 1206.3L284.8 1203.6L285.7 1201.0L286.6 1198.4L287.6 1195.7L288.5 1193.1L289.4 1190.6L290.4 1188.0L291.4 1185.5L292.4 1182.9L293.4 1180.4L294.4 1178.0L295.4 1175.5L296.4 1173.0L297.5 1170.6L298.5 1168.2L299.6 1165.8L300.7 1163.5L301.8 1161.1L302.9 1158.8L304.0 1156.5L305.1 1154.2L306.2 1151.9L307.4 1149.7L308.6 1147.5L309.7 1145.3L310.9 1143.1L312.1 1140.9L313.3 1138.8L314.6 1136.6L315.8 1134.5L317.1 1132.4L318.3 1130.3L319.6 1128.2L320.9 1126.2L322.2 1124.1L323.5 1122.1L324.8 1120.0L326.1 1118.0L327.5 1116.0L328.9 1114.0L330.2 1112.1L331.6 1110.1L333.0 1108.2L334.4 1106.2L335.9 1104.3L337.3 1102.4L338.8 1100.5L340.2 1098.6L341.7 1096.7L343.2 1094.9L344.7 1093.0L346.2 1091.2L347.8 1089.3L349.3 1087.5L350.9 1085.7L352.4 1083.9L354.0 1082.1L355.6 1080.4L357.3 1078.6L358.9 1076.9L360.5 1075.1L362.2 1073.4L363.8 1071.7L365.5 1069.9L367.2 1068.2L368.9 1066.6L370.7 1064.9L372.4 1063.2L374.1 1061.5L375.9 1059.9L377.7 1058.2L379.5 1056.6L381.3 1055.0L383.1 1053.3L384.9 1051.7L386.8 1050.1L388.7 1048.5L390.5 1046.9L392.4 1045.3L394.3 1043.8L396.3 1042.2L398.2 1040.6L400.1 1039.1L402.1 1037.5L404.1 1036.0L406.1 1034.5L408.1 1032.9L410.1 1031.4L412.2 1029.9L414.2 1028.4L416.3 1026.9L418.4 1025.4L420.5 1023.9L422.6 1022.5L424.7 1021.0L426.8 1019.5L429.0 1018.1L431.2 1016.6L433.3 1015.2L435.5 1013.7L437.8 1012.3L440.0 1010.9L442.2 1009.5L444.5 1008.1L446.8 1006.7L449.1 1005.3L451.4 1003.9L453.7 1002.5L456.0 1001.1L458.4 999.7L460.8 998.3L463.1 997.0L465.5 995.6L468.0 994.3L470.4 992.9L472.8 991.6L475.3 990.2L477.8 988.9L480.3 987.6L482.8 986.2L485.3 984.9L487.8 983.6L490.4 982.3L493.0 981.0L495.5 979.7L498.2 978.4L500.8 977.1L503.4 975.9L506.1 974.6L508.7 973.3L511.4 972.1L514.1 970.8L516.8 969.5L519.6 968.3L522.3 967.1L525.1 965.8L527.8 964.6L530.6 963.4L533.5 962.1L536.3 960.9L539.1 959.7L542.0 958.5L544.9 957.3L547.8 956.1L550.7 954.9L553.6 953.7L556.6 952.5L559.5 951.3L562.5 950.1L565.5 948.9L568.5 947.8L571.5 946.6L574.6 945.4L577.6 944.3L580.7 943.1L583.8 942.0L586.9 940.8L590.0 939.7L593.2 938.5L596.3 937.4L599.5 936.2L602.7 935.1L605.9 934.0L609.2 932.9L612.4 931.7L615.7 930.6L619.0 929.5L622.3 928.4L625.6 927.3L628.9 926.2L632.3 925.1L635.6 924.0L639.0 922.9L642.4 921.8L645.8 920.7L649.3 919.6L652.7 918.6L656.2 917.5L659.7 916.4L663.2 915.3L666.7 914.3L670.3 913.2L673.8 912.1L677.4 911.1L681.0 910.0L684.6 909.0L688.3 907.9L691.9 906.9L695.6 905.8L699.3 904.8L703.0 903.7L706.7 902.7L710.4 901.7L714.2 900.6L718.0 899.6L721.7 898.6L725.6 897.6L729.4 896.5L733.2 895.5L737.1 894.5L741.0 893.5L744.9 892.5L748.8 891.5L752.7 890.5L756.7 889.5L760.7 888.5L764.7 887.5L768.7 886.5L772.7 885.5L776.8 884.5L780.8 883.5L784.9 882.5L789.0 881.5L793.1 880.6L797.3 879.6L801.4 878.6L805.6 877.6L809.8 876.7L814.0 875.7L818.2 874.7L822.5 873.8L826.8 872.8L831.1 871.8L835.4 870.9L839.7 869.9L844.0 869.0L848.4 868.0L852.8 867.1L857.2 866.1L861.6 865.2L866.1 864.2L870.5 863.3L875.0 862.4L879.5 861.4L884.0 860.5L888.6 859.6L893.1 858.6L897.7 857.7L902.3 856.8L906.9 855.9L911.5 855.0L916.2 854.0L920.8 853.1L925.5 852.2L930.2 851.3L935.0 850.4L939.7 849.5L944.5 848.6L949.3 847.7L954.1 846.8L958.9 845.9L963.8 845.0L968.6 844.1L973.5 843.2L978.4 842.3L983.3 841.4L988.3 840.6L993.2 839.7L998.2 838.8L1003.2 837.9L1008.3 837.0L1013.3 836.2L1018.4 835.3L1023.4 834.4L1028.5 833.6L1033.7 832.7L1038.8 831.8L1044.0 831.0L1049.2 830.1L1054.4 829.3L1059.6 828.4L1064.8 827.6L1070.1 826.7L1075.4 825.9L1080.7 825.0L1086.0 824.2L1091.3 823.3L1096.7 822.5L1102.1 821.6L1107.5 820.8L1112.9 820.0L1118.4 819.1L1123.8 818.3L1129.3 817.5L1134.8 816.7L1140.3 815.8L1145.9 815.0L1151.5 814.2L1157.0 813.4L1162.7 812.6L1168.3 811.7L1173.9 810.9L1179.6 810.1L1185.3 809.3L1191.0 808.5L1196.7 807.7L1202.5 806.9L1208.3 806.1L1214.1 805.3L1219.9 804.5L1225.7 803.7L1231.6 802.9L1237.4 802.1L1243.3 801.3L1249.3 800.5L1255.2 799.8L1261.2 799.0L1267.1 798.2L1273.2 797.4L1279.2 796.6L1285.2 795.8L1291.3 795.1L1297.4 794.3L1303.5 793.5L1309.6 792.7L1315.8 792.0L1321.9 791.2L1328.1 790.4L1334.3 789.7L1340.6 788.9L1346.8 788.2L1353.1 787.4L1359.4 786.6L1365.7 785.9L1372.1 785.1L1378.4 784.4L1384.8 783.6L1391.2 782.9L1397.7 782.1L1404.1 781.4L1410.6 780.6L1417.1 779.9L1423.6 779.1L1430.1 778.4L1436.7 777.6L1443.3 776.9L1449.9 776.2L1456.5 775.4L1463.1 774.7L1469.8 774.0L1476.5 773.2L1483.2 772.5L1489.9 771.8L1496.7 771.0L1503.5 770.3L1510.3 769.6L1517.1 768.9L1523.9 768.1L1530.8 767.4L1537.7 766.7L1544.6 766.0L1551.5 765.2L1558.5 764.5L1565.4 763.8L1572.4 763.1L1579.4 762.4L1586.5 761.7L1593.5 760.9L1600.6 760.2L1607.7 759.5L1614.9 758.8L1622.0 758.1L1629.2 757.4L1636.4 756.7L1643.6 756.0L1650.8 755.3L1658.1 754.6L1665.4 753.9L1672.7 753.2L1680.0 752.5L1687.4 751.8L1694.7 751.1L1702.1 750.4L1709.6 749.7L1717.0 749.0L1724.5 748.3L1732.0 747.6L1739.5 746.9L1747.0 746.2" stroke="#00FF00"/>
</g>
<rect x="846" y="470" width="99" height="362" fill="#fff" fill-opacity="0.5"/>
<g font-family="'Liberation Serif','Times New Roman',serif" font-size="63.5">
<rect x="1117" y="848.7" width="142" height="5.2" fill="#000080" shape-rendering="crispEdges"/>
<text x="1272" y="872.5">5%glass powder</text>
<rect x="1117" y="947.5" width="142" height="5.2" fill="#0000FF" shape-rendering="crispEdges"/>
<text x="1272" y="971.3">15%glass powder</text>
<rect x="1117" y="1046.3" width="142" height="5.2" fill="#FF00FF" shape-rendering="crispEdges"/>
<text x="1272" y="1070.1">25%glass powder</text>
<rect x="1117" y="1145.1" width="142" height="5.2" fill="#00FFFF" shape-rendering="crispEdges"/>
<text x="1272" y="1168.9">35%glass powder</text>
<rect x="1117" y="1243.9" width="142" height="5.2" fill="#FF0000" shape-rendering="crispEdges"/>
<text x="1272" y="1267.7">45%glass powder</text>
<rect x="1117" y="1342.7" width="142" height="5.2" fill="#00FF00" shape-rendering="crispEdges"/>
<text x="1272" y="1366.5">55%glass powder</text>
</g>
<text font-family="'Liberation Serif','Times New Roman',serif" font-size="63.5" text-anchor="middle" x="994.3" y="1629">Hydration time(d)</text>
<text font-family="'Liberation Serif','Times New Roman',serif" font-size="62.9" text-anchor="middle" transform="translate(77.6 812.4) rotate(-90)">Degree of glass powder reaction</text>
<text font-family="'Noto Sans CJK SC','Liberation Sans',sans-serif" font-weight="350" font-size="79" letter-spacing="6.5" x="189" y="97.5">(a)</text>
<g shape-rendering="crispEdges" fill="#000">
<rect x="239.3" y="1783.8" width="5.8" height="1223.4"/>
<rect x="239.3" y="3001.4" width="1514.6" height="5.8"/>
<rect x="242.2" y="3001.5" width="24" height="5.6"/>
<rect x="242.2" y="2879.7" width="12" height="5.6"/>
<rect x="242.2" y="2758.0" width="24" height="5.6"/>
<rect x="242.2" y="2636.2" width="12" height="5.6"/>
<rect x="242.2" y="2514.5" width="24" height="5.6"/>
<rect x="242.2" y="2392.7" width="12" height="5.6"/>
<rect x="242.2" y="2270.9" width="24" height="5.6"/>
<rect x="242.2" y="2149.2" width="12" height="5.6"/>
<rect x="242.2" y="2027.4" width="24" height="5.6"/>
<rect x="242.2" y="1905.7" width="12" height="5.6"/>
<rect x="242.2" y="1783.9" width="24" height="5.6"/>
<rect x="239.4" y="2980.3" width="5.6" height="24"/>
<rect x="365.1" y="2992.3" width="5.6" height="12"/>
<rect x="490.9" y="2980.3" width="5.6" height="24"/>
<rect x="616.6" y="2992.3" width="5.6" height="12"/>
<rect x="742.3" y="2980.3" width="5.6" height="24"/>
<rect x="868.1" y="2992.3" width="5.6" height="12"/>
<rect x="993.8" y="2980.3" width="5.6" height="24"/>
<rect x="1119.5" y="2992.3" width="5.6" height="12"/>
<rect x="1245.3" y="2980.3" width="5.6" height="24"/>
<rect x="1371.0" y="2992.3" width="5.6" height="12"/>
<rect x="1496.7" y="2980.3" width="5.6" height="24"/>
<rect x="1622.5" y="2992.3" width="5.6" height="12"/>
<rect x="1748.2" y="2980.3" width="5.6" height="24"/>
</g>
<g font-family="'Liberation Serif','Times New Roman',serif" font-size="50.7">
<text x="215.4" y="3018.8" text-anchor="end">0.00</text>
<text x="215.4" y="2775.3" text-anchor="end">0.05</text>
<text x="215.4" y="2531.8" text-anchor="end">0.10</text>
<text x="215.4" y="2288.2" text-anchor="end">0.15</text>
<text x="215.4" y="2044.7" text-anchor="end">0.20</text>
<text x="215.4" y="1801.2" text-anchor="end">0.25</text>
<text x="242.2" y="3069.4" text-anchor="middle">0</text>
<text x="493.7" y="3069.4" text-anchor="middle">30</text>
<text x="745.1" y="3069.4" text-anchor="middle">60</text>
<text x="996.6" y="3069.4" text-anchor="middle">90</text>
<text x="1248.1" y="3069.4" text-anchor="middle">120</text>
<text x="1499.5" y="3069.4" text-anchor="middle">150</text>
<text x="1751.0" y="3069.4" text-anchor="middle">180</text>
</g>
<g fill="none" stroke-width="6" stroke-linejoin="round">
<path d="M242.2 3004.3L242.2 3004.3L242.2 3004.1L242.2 3003.7L242.2 3003.1L242.2 3002.2L242.2 3001.0L242.2 2999.5L242.2 2997.6L242.3 2995.3L242.3 2992.6L242.3 2989.6L242.3 2986.1L242.4 2982.2L242.4 2977.9L242.4 2973.3L242.5 2968.2L242.5 2962.7L242.6 2956.9L242.6 2950.7L242.7 2944.2L242.7 2937.4L242.8 2930.3L242.9 2922.9L243.0 2915.3L243.0 2907.5L243.1 2899.5L243.2 2891.4L243.3 2883.1L243.4 2874.8L243.5 2866.4L243.7 2858.0L243.8 2849.6L243.9 2841.2L244.0 2832.9L244.2 2824.6L244.3 2816.4L244.5 2808.4L244.6 2800.4L244.8 2792.5L244.9 2784.8L245.1 2777.2L245.3 2769.8L245.5 2762.5L245.7 2755.3L245.9 2748.3L246.1 2741.4L246.3 2734.6L246.5 2727.9L246.8 2721.4L247.0 2715.0L247.2 2708.7L247.5 2702.4L247.7 2696.3L248.0 2690.2L248.3 2684.2L248.6 2678.2L248.9 2672.3L249.1 2666.5L249.5 2660.7L249.8 2654.9L250.1 2649.1L250.4 2643.4L250.7 2637.7L251.1 2632.0L251.4 2626.4L251.8 2620.7L252.2 2615.1L252.5 2609.5L252.9 2603.9L253.3 2598.3L253.7 2592.8L254.1 2587.3L254.6 2581.8L255.0 2576.3L255.4 2570.9L255.9 2565.5L256.3 2560.1L256.8 2554.8L257.2 2549.5L257.7 2544.2L258.2 2539.0L258.7 2533.9L259.2 2528.8L259.7 2523.7L260.3 2518.7L260.8 2513.7L261.4 2508.8L261.9 2504.0L262.5 2499.2L263.0 2494.5L263.6 2489.8L264.2 2485.2L264.8 2480.7L265.4 2476.2L266.1 2471.8L266.7 2467.5L267.3 2463.2L268.0 2459.0L268.7 2454.9L269.3 2450.8L270.0 2446.9L270.7 2442.9L271.4 2439.1L272.1 2435.3L272.8 2431.6L273.6 2427.9L274.3 2424.4L275.1 2420.8L275.8 2417.4L276.6 2414.0L277.4 2410.7L278.2 2407.4L279.0 2404.2L279.8 2401.1L280.7 2398.0L281.5 2395.0L282.4 2392.1L283.2 2389.2L284.1 2386.3L285.0 2383.6L285.9 2380.8L286.8 2378.2L287.7 2375.6L288.6 2373.0L289.6 2370.5L290.5 2368.1L291.5 2365.7L292.5 2363.3L293.5 2361.0L294.5 2358.8L295.5 2356.5L296.5 2354.3L297.5 2352.2L298.6 2350.1L299.6 2348.0L300.7 2345.9L301.8 2343.9L302.9 2341.9L304.0 2339.9L305.1 2338.0L306.2 2336.1L307.4 2334.2L308.5 2332.4L309.7 2330.5L310.9 2328.7L312.1 2327.0L313.3 2325.2L314.5 2323.5L315.7 2321.8L316.9 2320.1L318.2 2318.4L319.5 2316.8L320.7 2315.2L322.0 2313.6L323.3 2312.0L324.7 2310.5L326.0 2309.0L327.3 2307.5L328.7 2306.0L330.0 2304.5L331.4 2303.0L332.8 2301.6L334.2 2300.2L335.6 2298.8L337.1 2297.4L338.5 2296.1L340.0 2294.7L341.4 2293.4L342.9 2292.1L344.4 2290.8L345.9 2289.5L347.4 2288.2L349.0 2287.0L350.5 2285.7L352.1 2284.5L353.7 2283.3L355.3 2282.1L356.9 2280.9L358.5 2279.8L360.1 2278.6L361.8 2277.5L363.4 2276.4L365.1 2275.3L366.8 2274.2L368.5 2273.1L370.2 2272.0L371.9 2270.9L373.7 2269.9L375.4 2268.9L377.2 2267.9L379.0 2266.9L380.8 2265.9L382.6 2264.9L384.4 2263.9L386.2 2263.0L388.1 2262.0L390.0 2261.1L391.8 2260.2L393.7 2259.3L395.6 2258.4L397.6 2257.5L399.5 2256.6L401.5 2255.8L403.4 2254.9L405.4 2254.1L407.4 2253.3L409.4 2252.4L411.5 2251.6L413.5 2250.9L415.6 2250.1L417.6 2249.3L419.7 2248.6L421.8 2247.8L423.9 2247.1L426.1 2246.4L428.2 2245.7L430.4 2245.0L432.5 2244.3L434.7 2243.6L436.9 2242.9L439.2 2242.3L441.4 2241.6L443.6 2241.0L445.9 2240.3L448.2 2239.7L450.5 2239.1L452.8 2238.5L455.1 2237.9L457.5 2237.3L459.8 2236.8L462.2 2236.2L464.6 2235.7L467.0 2235.1L469.4 2234.6L471.8 2234.1L474.3 2233.5L476.8 2233.0L479.2 2232.5L481.7 2232.0L484.3 2231.5L486.8 2231.1L489.3 2230.6L491.9 2230.1L494.5 2229.7L497.1 2229.2L499.7 2228.8L502.3 2228.4L504.9 2227.9L507.6 2227.5L510.3 2227.1L512.9 2226.7L515.7 2226.3L518.4 2225.9L521.1 2225.5L523.9 2225.2L526.6 2224.8L529.4 2224.4L532.2 2224.1L535.0 2223.7L537.9 2223.4L540.7 2223.0L543.6 2222.7L546.5 2222.4L549.4 2222.0L552.3 2221.7L555.2 2221.4L558.2 2221.1L561.1 2220.8L564.1 2220.5L567.1 2220.2L570.1 2219.9L573.2 2219.6L576.2 2219.4L579.3 2219.1L582.4 2218.8L585.5 2218.5L588.6 2218.3L591.7 2218.0L594.9 2217.8L598.1 2217.5L601.2 2217.3L604.4 2217.0L607.7 2216.8L610.9 2216.5L614.2 2216.3L617.4 2216.1L620.7 2215.9L624.0 2215.6L627.3 2215.4L630.7 2215.2L634.0 2215.0L637.4 2214.8L640.8 2214.6L644.2 2214.4L647.6 2214.2L651.1 2214.0L654.6 2213.8L658.0 2213.6L661.5 2213.4L665.0 2213.2L668.6 2213.0L672.1 2212.9L675.7 2212.7L679.3 2212.5L682.9 2212.3L686.5 2212.1L690.1 2212.0L693.8 2211.8L697.5 2211.6L701.2 2211.5L704.9 2211.3L708.6 2211.2L712.4 2211.0L716.1 2210.8L719.9 2210.7L723.7 2210.5L727.5 2210.4L731.4 2210.2L735.2 2210.1L739.1 2209.9L743.0 2209.8L746.9 2209.7L750.8 2209.5L754.8 2209.4L758.7 2209.2L762.7 2209.1L766.7 2209.0L770.7 2208.8L774.8 2208.7L778.8 2208.6L782.9 2208.4L787.0 2208.3L791.1 2208.2L795.2 2208.1L799.4 2207.9L803.5 2207.8L807.7 2207.7L811.9 2207.6L816.2 2207.5L820.4 2207.3L824.7 2207.2L828.9 2207.1L833.2 2207.0L837.6 2206.9L841.9 2206.8L846.2 2206.7L850.6 2206.6L855.0 2206.4L859.4 2206.3L863.9 2206.2L868.3 2206.1L872.8 2206.0L877.3 2205.9L881.8 2205.8L886.3 2205.7L890.8 2205.6L895.4 2205.5L900.0 2205.4L904.6 2205.3L909.2 2205.2L913.9 2205.1L918.5 2205.0L923.2 2204.9L927.9 2204.8L932.6 2204.7L937.4 2204.6L942.1 2204.6L946.9 2204.5L951.7 2204.4L956.5 2204.3L961.3 2204.2L966.2 2204.1L971.1 2204.0L976.0 2203.9L980.9 2203.8L985.8 2203.8L990.8 2203.7L995.7 2203.6L1000.7 2203.5L1005.8 2203.4L1010.8 2203.4L1015.8 2203.3L1020.9 2203.2L1026.0 2203.1L1031.1 2203.0L1036.3 2203.0L1041.4 2202.9L1046.6 2202.8L1051.8 2202.7L1057.0 2202.7L1062.2 2202.6L1067.5 2202.5L1072.7 2202.4L1078.0 2202.4L1083.3 2202.3L1088.7 2202.2L1094.0 2202.2L1099.4 2202.1L1104.8 2202.0L1110.2 2202.0L1115.7 2201.9L1121.1 2201.8L1126.6 2201.8L1132.1 2201.7L1137.6 2201.6L1143.1 2201.6L1148.7 2201.5L1154.3 2201.5L1159.9 2201.4L1165.5 2201.3L1171.1 2201.3L1176.8 2201.2L1182.5 2201.2L1188.2 2201.1L1193.9 2201.1L1199.6 2201.0L1205.4 2201.0L1211.2 2200.9L1217.0 2200.8L1222.8 2200.8L1228.7 2200.7L1234.5 2200.7L1240.4 2200.6L1246.3 2200.6L1252.3 2200.5L1258.2 2200.5L1264.2 2200.4L1270.2 2200.4L1276.2 2200.4L1282.2 2200.3L1288.3 2200.3L1294.4 2200.2L1300.5 2200.2L1306.6 2200.1L1312.7 2200.1L1318.9 2200.1L1325.1 2200.0L1331.3 2200.0L1337.5 2199.9L1343.8 2199.9L1350.0 2199.9L1356.3 2199.8L1362.6 2199.8L1369.0 2199.7L1375.3 2199.7L1381.7 2199.7L1388.1 2199.6L1394.5 2199.6L1401.0 2199.6L1407.4 2199.5L1413.9 2199.5L1420.4 2199.5L1426.9 2199.4L1433.5 2199.4L1440.1 2199.4L1446.7 2199.4L1453.3 2199.3L1459.9 2199.3L1466.6 2199.3L1473.2 2199.3L1479.9 2199.2L1486.7 2199.2L1493.4 2199.2L1500.2 2199.2L1507.0 2199.1L1513.8 2199.1L1520.6 2199.1L1527.5 2199.1L1534.3 2199.1L1541.2 2199.0L1548.2 2199.0L1555.1 2199.0L1562.1 2199.0L1569.1 2199.0L1576.1 2198.9L1583.1 2198.9L1590.2 2198.9L1597.2 2198.9L1604.3 2198.9L1611.5 2198.9L1618.6 2198.9L1625.8 2198.8L1632.9 2198.8L1640.2 2198.8L1647.4 2198.8L1654.6 2198.8L1661.9 2198.8L1669.2 2198.8L1676.5 2198.8L1683.9 2198.8L1691.3 2198.7L1698.6 2198.7L1706.1 2198.7L1713.5 2198.7L1720.9 2198.7L1728.4 2198.7L1735.9 2198.7L1743.5 2198.7L1751.0 2198.7" stroke="#000080"/>
<path d="M242.2 3004.3L242.2 3004.3L242.2 3004.1L242.2 3003.7L242.2 3003.2L242.2 3002.3L242.2 3001.2L242.2 2999.7L242.2 2997.9L242.3 2995.8L242.3 2993.3L242.3 2990.4L242.3 2987.1L242.4 2983.5L242.4 2979.4L242.4 2975.0L242.5 2970.3L242.5 2965.1L242.6 2959.7L242.6 2953.9L242.7 2947.8L242.7 2941.4L242.8 2934.8L242.9 2928.0L243.0 2920.9L243.0 2913.7L243.1 2906.4L243.2 2898.9L243.3 2891.4L243.4 2883.8L243.5 2876.2L243.7 2868.6L243.8 2861.0L243.9 2853.5L244.0 2846.1L244.2 2838.8L244.3 2831.5L244.5 2824.4L244.6 2817.5L244.8 2810.7L244.9 2804.0L245.1 2797.5L245.3 2791.2L245.5 2785.1L245.7 2779.1L245.9 2773.2L246.1 2767.5L246.3 2762.0L246.5 2756.5L246.8 2751.2L247.0 2746.1L247.2 2741.0L247.5 2736.0L247.7 2731.1L248.0 2726.3L248.3 2721.5L248.6 2716.8L248.9 2712.2L249.1 2707.6L249.5 2703.0L249.8 2698.4L250.1 2693.9L250.4 2689.3L250.7 2684.8L251.1 2680.3L251.4 2675.8L251.8 2671.2L252.2 2666.7L252.5 2662.2L252.9 2657.6L253.3 2653.1L253.7 2648.5L254.1 2643.9L254.6 2639.4L255.0 2634.8L255.4 2630.2L255.9 2625.7L256.3 2621.1L256.8 2616.5L257.2 2612.0L257.7 2607.4L258.2 2602.9L258.7 2598.4L259.2 2593.8L259.7 2589.3L260.3 2584.9L260.8 2580.4L261.4 2576.0L261.9 2571.6L262.5 2567.2L263.0 2562.9L263.6 2558.5L264.2 2554.3L264.8 2550.0L265.4 2545.8L266.1 2541.7L266.7 2537.5L267.3 2533.5L268.0 2529.4L268.7 2525.5L269.3 2521.5L270.0 2517.6L270.7 2513.8L271.4 2510.0L272.1 2506.3L272.8 2502.6L273.6 2499.0L274.3 2495.4L275.1 2491.9L275.8 2488.4L276.6 2485.0L277.4 2481.7L278.2 2478.4L279.0 2475.2L279.8 2472.0L280.7 2468.9L281.5 2465.8L282.4 2462.9L283.2 2459.9L284.1 2457.0L285.0 2454.2L285.9 2451.5L286.8 2448.7L287.7 2446.1L288.6 2443.5L289.6 2440.9L290.5 2438.4L291.5 2436.0L292.5 2433.6L293.5 2431.3L294.5 2429.1L295.5 2427.0L296.5 2424.9L297.5 2422.8L298.6 2420.8L299.6 2418.9L300.7 2417.1L301.8 2415.2L302.9 2413.5L304.0 2411.8L305.1 2410.1L306.2 2408.5L307.4 2406.9L308.5 2405.4L309.7 2403.9L310.9 2402.4L312.1 2401.0L313.3 2399.6L314.5 2398.2L315.7 2396.9L316.9 2395.6L318.2 2394.3L319.5 2393.0L320.7 2391.8L322.0 2390.6L323.3 2389.4L324.7 2388.3L326.0 2387.2L327.3 2386.1L328.7 2385.1L330.0 2384.0L331.4 2383.0L332.8 2382.1L334.2 2381.1L335.6 2380.2L337.1 2379.3L338.5 2378.4L340.0 2377.5L341.4 2376.7L342.9 2375.8L344.4 2375.0L345.9 2374.3L347.4 2373.5L349.0 2372.7L350.5 2372.0L352.1 2371.3L353.7 2370.6L355.3 2369.9L356.9 2369.2L358.5 2368.6L360.1 2367.9L361.8 2367.3L363.4 2366.7L365.1 2366.1L366.8 2365.5L368.5 2364.9L370.2 2364.4L371.9 2363.8L373.7 2363.3L375.4 2362.8L377.2 2362.2L379.0 2361.7L380.8 2361.2L382.6 2360.7L384.4 2360.2L386.2 2359.8L388.1 2359.3L390.0 2358.8L391.8 2358.4L393.7 2357.9L395.6 2357.5L397.6 2357.1L399.5 2356.6L401.5 2356.2L403.4 2355.8L405.4 2355.4L407.4 2355.0L409.4 2354.6L411.5 2354.2L413.5 2353.8L415.6 2353.5L417.6 2353.1L419.7 2352.7L421.8 2352.4L423.9 2352.0L426.1 2351.6L428.2 2351.3L430.4 2351.0L432.5 2350.6L434.7 2350.3L436.9 2350.0L439.2 2349.6L441.4 2349.3L443.6 2349.0L445.9 2348.7L448.2 2348.4L450.5 2348.1L452.8 2347.8L455.1 2347.5L457.5 2347.2L459.8 2347.0L462.2 2346.7L464.6 2346.4L467.0 2346.1L469.4 2345.9L471.8 2345.6L474.3 2345.4L476.8 2345.1L479.2 2344.8L481.7 2344.6L484.3 2344.4L486.8 2344.1L489.3 2343.9L491.9 2343.7L494.5 2343.4L497.1 2343.2L499.7 2343.0L502.3 2342.8L504.9 2342.6L507.6 2342.4L510.3 2342.2L512.9 2342.0L515.7 2341.8L518.4 2341.6L521.1 2341.4L523.9 2341.2L526.6 2341.0L529.4 2340.8L532.2 2340.7L535.0 2340.5L537.9 2340.3L540.7 2340.2L543.6 2340.0L546.5 2339.8L549.4 2339.7L552.3 2339.5L555.2 2339.4L558.2 2339.3L561.1 2339.1L564.1 2339.0L567.1 2338.8L570.1 2338.7L573.2 2338.6L576.2 2338.5L579.3 2338.3L582.4 2338.2L585.5 2338.1L588.6 2338.0L591.7 2337.9L594.9 2337.8L598.1 2337.7L601.2 2337.6L604.4 2337.5L607.7 2337.4L610.9 2337.3L614.2 2337.2L617.4 2337.1L620.7 2337.0L624.0 2337.0L627.3 2336.9L630.7 2336.8L634.0 2336.7L637.4 2336.7L640.8 2336.6L644.2 2336.5L647.6 2336.5L651.1 2336.4L654.6 2336.3L658.0 2336.3L661.5 2336.2L665.0 2336.2L668.6 2336.1L672.1 2336.1L675.7 2336.0L679.3 2336.0L682.9 2336.0L686.5 2335.9L690.1 2335.9L693.8 2335.9L697.5 2335.8L701.2 2335.8L704.9 2335.8L708.6 2335.7L712.4 2335.7L716.1 2335.7L719.9 2335.7L723.7 2335.6L727.5 2335.6L731.4 2335.6L735.2 2335.6L739.1 2335.6L743.0 2335.6L746.9 2335.6L750.8 2335.5L754.8 2335.5L758.7 2335.5L762.7 2335.5L766.7 2335.5L770.7 2335.5L774.8 2335.5L778.8 2335.5L782.9 2335.5L787.0 2335.5L791.1 2335.5L795.2 2335.5L799.4 2335.5L803.5 2335.5L807.7 2335.5L811.9 2335.6L816.2 2335.6L820.4 2335.6L824.7 2335.6L828.9 2335.6L833.2 2335.6L837.6 2335.6L841.9 2335.6L846.2 2335.7L850.6 2335.7L855.0 2335.7L859.4 2335.7L863.9 2335.7L868.3 2335.8L872.8 2335.8L877.3 2335.8L881.8 2335.8L886.3 2335.8L890.8 2335.9L895.4 2335.9L900.0 2335.9L904.6 2335.9L909.2 2336.0L913.9 2336.0L918.5 2336.0L923.2 2336.0L927.9 2336.1L932.6 2336.1L937.4 2336.1L942.1 2336.2L946.9 2336.2L951.7 2336.2L956.5 2336.3L961.3 2336.3L966.2 2336.3L971.1 2336.3L976.0 2336.4L980.9 2336.4L985.8 2336.4L990.8 2336.5L995.7 2336.5L1000.7 2336.6L1005.8 2336.6L1010.8 2336.6L1015.8 2336.7L1020.9 2336.7L1026.0 2336.7L1031.1 2336.8L1036.3 2336.8L1041.4 2336.8L1046.6 2336.9L1051.8 2336.9L1057.0 2337.0L1062.2 2337.0L1067.5 2337.0L1072.7 2337.1L1078.0 2337.1L1083.3 2337.1L1088.7 2337.2L1094.0 2337.2L1099.4 2337.3L1104.8 2337.3L1110.2 2337.3L1115.7 2337.4L1121.1 2337.4L1126.6 2337.5L1132.1 2337.5L1137.6 2337.6L1143.1 2337.6L1148.7 2337.6L1154.3 2337.7L1159.9 2337.7L1165.5 2337.8L1171.1 2337.8L1176.8 2337.9L1182.5 2337.9L1188.2 2337.9L1193.9 2338.0L1199.6 2338.0L1205.4 2338.1L1211.2 2338.1L1217.0 2338.2L1222.8 2338.2L1228.7 2338.2L1234.5 2338.3L1240.4 2338.3L1246.3 2338.4L1252.3 2338.4L1258.2 2338.5L1264.2 2338.5L1270.2 2338.6L1276.2 2338.6L1282.2 2338.7L1288.3 2338.7L1294.4 2338.8L1300.5 2338.8L1306.6 2338.8L1312.7 2338.9L1318.9 2338.9L1325.1 2339.0L1331.3 2339.0L1337.5 2339.1L1343.8 2339.1L1350.0 2339.2L1356.3 2339.2L1362.6 2339.3L1369.0 2339.3L1375.3 2339.4L1381.7 2339.4L1388.1 2339.5L1394.5 2339.5L1401.0 2339.6L1407.4 2339.6L1413.9 2339.7L1420.4 2339.7L1426.9 2339.8L1433.5 2339.8L1440.1 2339.9L1446.7 2339.9L1453.3 2340.0L1459.9 2340.0L1466.6 2340.1L1473.2 2340.1L1479.9 2340.2L1486.7 2340.2L1493.4 2340.3L1500.2 2340.3L1507.0 2340.4L1513.8 2340.4L1520.6 2340.5L1527.5 2340.5L1534.3 2340.6L1541.2 2340.6L1548.2 2340.7L1555.1 2340.8L1562.1 2340.8L1569.1 2340.9L1576.1 2340.9L1583.1 2341.0L1590.2 2341.0L1597.2 2341.1L1604.3 2341.1L1611.5 2341.2L1618.6 2341.2L1625.8 2341.3L1632.9 2341.4L1640.2 2341.4L1647.4 2341.5L1654.6 2341.5L1661.9 2341.6L1669.2 2341.6L1676.5 2341.7L1683.9 2341.8L1691.3 2341.8L1698.6 2341.9L1706.1 2341.9L1713.5 2342.0L1720.9 2342.0L1728.4 2342.1L1735.9 2342.2L1743.5 2342.2L1751.0 2342.3" stroke="#0000FF"/>
<path d="M242.2 3004.3L242.2 3004.3L242.2 3004.1L242.2 3003.8L242.2 3003.3L242.2 3002.6L242.2 3001.6L242.2 3000.3L242.2 2998.8L242.3 2996.9L242.3 2994.7L242.3 2992.2L242.3 2989.4L242.4 2986.2L242.4 2982.7L242.4 2978.9L242.5 2974.7L242.5 2970.3L242.6 2965.5L242.6 2960.5L242.7 2955.1L242.7 2949.6L242.8 2943.8L242.9 2937.8L243.0 2931.6L243.0 2925.3L243.1 2918.8L243.2 2912.3L243.3 2905.6L243.4 2898.9L243.5 2892.2L243.7 2885.5L243.8 2878.7L243.9 2872.0L244.0 2865.4L244.2 2858.8L244.3 2852.3L244.5 2845.9L244.6 2839.6L244.8 2833.5L244.9 2827.4L245.1 2821.5L245.3 2815.7L245.5 2810.0L245.7 2804.4L245.9 2799.0L246.1 2793.7L246.3 2788.5L246.5 2783.4L246.8 2778.4L247.0 2773.5L247.2 2768.7L247.5 2764.0L247.7 2759.3L248.0 2754.7L248.3 2750.2L248.6 2745.7L248.9 2741.2L249.1 2736.8L249.5 2732.4L249.8 2728.0L250.1 2723.6L250.4 2719.3L250.7 2715.0L251.1 2710.6L251.4 2706.3L251.8 2702.0L252.2 2697.7L252.5 2693.4L252.9 2689.1L253.3 2684.8L253.7 2680.5L254.1 2676.3L254.6 2672.0L255.0 2667.7L255.4 2663.5L255.9 2659.3L256.3 2655.1L256.8 2650.9L257.2 2646.7L257.7 2642.5L258.2 2638.4L258.7 2634.3L259.2 2630.3L259.7 2626.2L260.3 2622.2L260.8 2618.3L261.4 2614.4L261.9 2610.5L262.5 2606.6L263.0 2602.8L263.6 2599.1L264.2 2595.4L264.8 2591.7L265.4 2588.1L266.1 2584.6L266.7 2581.1L267.3 2577.6L268.0 2574.3L268.7 2570.9L269.3 2567.6L270.0 2564.4L270.7 2561.3L271.4 2558.2L272.1 2555.1L272.8 2552.1L273.6 2549.2L274.3 2546.4L275.1 2543.6L275.8 2540.8L276.6 2538.1L277.4 2535.5L278.2 2533.0L279.0 2530.5L279.8 2528.0L280.7 2525.6L281.5 2523.3L282.4 2521.0L283.2 2518.8L284.1 2516.7L285.0 2514.6L285.9 2512.5L286.8 2510.6L287.7 2508.6L288.6 2506.8L289.6 2504.9L290.5 2503.2L291.5 2501.5L292.5 2499.8L293.5 2498.2L294.5 2496.6L295.5 2495.1L296.5 2493.6L297.5 2492.2L298.6 2490.8L299.6 2489.4L300.7 2488.1L301.8 2486.9L302.9 2485.6L304.0 2484.5L305.1 2483.3L306.2 2482.2L307.4 2481.1L308.5 2480.1L309.7 2479.0L310.9 2478.0L312.1 2477.1L313.3 2476.2L314.5 2475.3L315.7 2474.4L316.9 2473.5L318.2 2472.7L319.5 2471.9L320.7 2471.1L322.0 2470.4L323.3 2469.7L324.7 2468.9L326.0 2468.3L327.3 2467.6L328.7 2467.0L330.0 2466.3L331.4 2465.7L332.8 2465.1L334.2 2464.6L335.6 2464.0L337.1 2463.5L338.5 2463.0L340.0 2462.4L341.4 2462.0L342.9 2461.5L344.4 2461.0L345.9 2460.6L347.4 2460.1L349.0 2459.7L350.5 2459.3L352.1 2458.9L353.7 2458.5L355.3 2458.1L356.9 2457.7L358.5 2457.4L360.1 2457.0L361.8 2456.7L363.4 2456.3L365.1 2456.0L366.8 2455.7L368.5 2455.4L370.2 2455.1L371.9 2454.8L373.7 2454.5L375.4 2454.3L377.2 2454.0L379.0 2453.7L380.8 2453.5L382.6 2453.2L384.4 2453.0L386.2 2452.8L388.1 2452.5L390.0 2452.3L391.8 2452.1L393.7 2451.9L395.6 2451.7L397.6 2451.5L399.5 2451.3L401.5 2451.1L403.4 2451.0L405.4 2450.8L407.4 2450.6L409.4 2450.5L411.5 2450.3L413.5 2450.2L415.6 2450.0L417.6 2449.9L419.7 2449.7L421.8 2449.6L423.9 2449.5L426.1 2449.4L428.2 2449.3L430.4 2449.2L432.5 2449.0L434.7 2448.9L436.9 2448.9L439.2 2448.8L441.4 2448.7L443.6 2448.6L445.9 2448.5L448.2 2448.4L450.5 2448.4L452.8 2448.3L455.1 2448.2L457.5 2448.2L459.8 2448.1L462.2 2448.1L464.6 2448.0L467.0 2448.0L469.4 2448.0L471.8 2447.9L474.3 2447.9L476.8 2447.9L479.2 2447.9L481.7 2447.8L484.3 2447.8L486.8 2447.8L489.3 2447.8L491.9 2447.8L494.5 2447.8L497.1 2447.8L499.7 2447.8L502.3 2447.8L504.9 2447.8L507.6 2447.9L510.3 2447.9L512.9 2447.9L515.7 2447.9L518.4 2448.0L521.1 2448.0L523.9 2448.0L526.6 2448.1L529.4 2448.1L532.2 2448.2L535.0 2448.2L537.9 2448.2L540.7 2448.3L543.6 2448.4L546.5 2448.4L549.4 2448.5L552.3 2448.5L555.2 2448.6L558.2 2448.7L561.1 2448.7L564.1 2448.8L567.1 2448.9L570.1 2448.9L573.2 2449.0L576.2 2449.1L579.3 2449.2L582.4 2449.3L585.5 2449.4L588.6 2449.4L591.7 2449.5L594.9 2449.6L598.1 2449.7L601.2 2449.8L604.4 2449.9L607.7 2450.0L610.9 2450.1L614.2 2450.2L617.4 2450.3L620.7 2450.4L624.0 2450.5L627.3 2450.6L630.7 2450.7L634.0 2450.8L637.4 2450.9L640.8 2451.0L644.2 2451.2L647.6 2451.3L651.1 2451.4L654.6 2451.5L658.0 2451.6L661.5 2451.7L665.0 2451.8L668.6 2452.0L672.1 2452.1L675.7 2452.2L679.3 2452.3L682.9 2452.4L686.5 2452.6L690.1 2452.7L693.8 2452.8L697.5 2452.9L701.2 2453.0L704.9 2453.2L708.6 2453.3L712.4 2453.4L716.1 2453.5L719.9 2453.7L723.7 2453.8L727.5 2453.9L731.4 2454.0L735.2 2454.2L739.1 2454.3L743.0 2454.4L746.9 2454.5L750.8 2454.7L754.8 2454.8L758.7 2454.9L762.7 2455.1L766.7 2455.2L770.7 2455.3L774.8 2455.4L778.8 2455.6L782.9 2455.7L787.0 2455.8L791.1 2455.9L795.2 2456.1L799.4 2456.2L803.5 2456.3L807.7 2456.5L811.9 2456.6L816.2 2456.7L820.4 2456.8L824.7 2457.0L828.9 2457.1L833.2 2457.2L837.6 2457.3L841.9 2457.5L846.2 2457.6L850.6 2457.7L855.0 2457.8L859.4 2458.0L863.9 2458.1L868.3 2458.2L872.8 2458.4L877.3 2458.5L881.8 2458.6L886.3 2458.7L890.8 2458.9L895.4 2459.0L900.0 2459.1L904.6 2459.2L909.2 2459.3L913.9 2459.5L918.5 2459.6L923.2 2459.7L927.9 2459.8L932.6 2460.0L937.4 2460.1L942.1 2460.2L946.9 2460.3L951.7 2460.5L956.5 2460.6L961.3 2460.7L966.2 2460.8L971.1 2460.9L976.0 2461.1L980.9 2461.2L985.8 2461.3L990.8 2461.4L995.7 2461.5L1000.7 2461.7L1005.8 2461.8L1010.8 2461.9L1015.8 2462.0L1020.9 2462.1L1026.0 2462.3L1031.1 2462.4L1036.3 2462.5L1041.4 2462.6L1046.6 2462.7L1051.8 2462.8L1057.0 2463.0L1062.2 2463.1L1067.5 2463.2L1072.7 2463.3L1078.0 2463.4L1083.3 2463.5L1088.7 2463.7L1094.0 2463.8L1099.4 2463.9L1104.8 2464.0L1110.2 2464.1L1115.7 2464.2L1121.1 2464.4L1126.6 2464.5L1132.1 2464.6L1137.6 2464.7L1143.1 2464.8L1148.7 2464.9L1154.3 2465.1L1159.9 2465.2L1165.5 2465.3L1171.1 2465.4L1176.8 2465.5L1182.5 2465.6L1188.2 2465.8L1193.9 2465.9L1199.6 2466.0L1205.4 2466.1L1211.2 2466.2L1217.0 2466.3L1222.8 2466.5L1228.7 2466.6L1234.5 2466.7L1240.4 2466.8L1246.3 2466.9L1252.3 2467.0L1258.2 2467.2L1264.2 2467.3L1270.2 2467.4L1276.2 2467.5L1282.2 2467.6L1288.3 2467.7L1294.4 2467.9L1300.5 2468.0L1306.6 2468.1L1312.7 2468.2L1318.9 2468.3L1325.1 2468.4L1331.3 2468.6L1337.5 2468.7L1343.8 2468.8L1350.0 2468.9L1356.3 2469.0L1362.6 2469.1L1369.0 2469.3L1375.3 2469.4L1381.7 2469.5L1388.1 2469.6L1394.5 2469.7L1401.0 2469.8L1407.4 2470.0L1413.9 2470.1L1420.4 2470.2L1426.9 2470.3L1433.5 2470.4L1440.1 2470.6L1446.7 2470.7L1453.3 2470.8L1459.9 2470.9L1466.6 2471.0L1473.2 2471.2L1479.9 2471.3L1486.7 2471.4L1493.4 2471.5L1500.2 2471.6L1507.0 2471.8L1513.8 2471.9L1520.6 2472.0L1527.5 2472.1L1534.3 2472.2L1541.2 2472.4L1548.2 2472.5L1555.1 2472.6L1562.1 2472.7L1569.1 2472.8L1576.1 2473.0L1583.1 2473.1L1590.2 2473.2L1597.2 2473.3L1604.3 2473.5L1611.5 2473.6L1618.6 2473.7L1625.8 2473.8L1632.9 2474.0L1640.2 2474.1L1647.4 2474.2L1654.6 2474.3L1661.9 2474.4L1669.2 2474.6L1676.5 2474.7L1683.9 2474.8L1691.3 2474.9L1698.6 2475.1L1706.1 2475.2L1713.5 2475.3L1720.9 2475.4L1728.4 2475.6L1735.9 2475.7L1743.5 2475.8L1751.0 2475.9" stroke="#FF00FF"/>
<path d="M242.2 3004.3L242.2 3004.3L242.2 3004.1L242.2 3003.9L242.2 3003.4L242.2 3002.8L242.2 3001.9L242.2 3000.7L242.2 2999.3L242.3 2997.7L242.3 2995.7L242.3 2993.5L242.3 2990.9L242.4 2988.1L242.4 2985.0L242.4 2981.5L242.5 2977.8L242.5 2973.8L242.6 2969.6L242.6 2965.0L242.7 2960.3L242.7 2955.3L242.8 2950.1L242.9 2944.8L243.0 2939.3L243.0 2933.6L243.1 2927.8L243.2 2922.0L243.3 2916.1L243.4 2910.1L243.5 2904.1L243.7 2898.1L243.8 2892.1L243.9 2886.1L244.0 2880.2L244.2 2874.4L244.3 2868.6L244.5 2863.0L244.6 2857.4L244.8 2851.9L244.9 2846.6L245.1 2841.3L245.3 2836.2L245.5 2831.2L245.7 2826.4L245.9 2821.6L246.1 2816.9L246.3 2812.4L246.5 2808.0L246.8 2803.6L247.0 2799.4L247.2 2795.2L247.5 2791.1L247.7 2787.0L248.0 2783.1L248.3 2779.1L248.6 2775.3L248.9 2771.4L249.1 2767.6L249.5 2763.9L249.8 2760.1L250.1 2756.4L250.4 2752.7L250.7 2749.0L251.1 2745.4L251.4 2741.7L251.8 2738.1L252.2 2734.4L252.5 2730.8L252.9 2727.2L253.3 2723.6L253.7 2720.0L254.1 2716.4L254.6 2712.8L255.0 2709.2L255.4 2705.7L255.9 2702.2L256.3 2698.7L256.8 2695.2L257.2 2691.7L257.7 2688.3L258.2 2684.9L258.7 2681.5L259.2 2678.2L259.7 2674.9L260.3 2671.6L260.8 2668.3L261.4 2665.1L261.9 2662.0L262.5 2658.8L263.0 2655.8L263.6 2652.7L264.2 2649.7L264.8 2646.8L265.4 2643.9L266.1 2641.0L266.7 2638.2L267.3 2635.5L268.0 2632.8L268.7 2630.1L269.3 2627.5L270.0 2625.0L270.7 2622.5L271.4 2620.1L272.1 2617.7L272.8 2615.4L273.6 2613.1L274.3 2610.9L275.1 2608.7L275.8 2606.6L276.6 2604.6L277.4 2602.5L278.2 2600.5L279.0 2598.6L279.8 2596.7L280.7 2594.8L281.5 2593.0L282.4 2591.3L283.2 2589.6L284.1 2588.0L285.0 2586.5L285.9 2585.1L286.8 2583.7L287.7 2582.4L288.6 2581.1L289.6 2579.9L290.5 2578.7L291.5 2577.6L292.5 2576.6L293.5 2575.6L294.5 2574.6L295.5 2573.7L296.5 2572.8L297.5 2571.9L298.6 2571.0L299.6 2570.2L300.7 2569.4L301.8 2568.6L302.9 2567.9L304.0 2567.1L305.1 2566.4L306.2 2565.7L307.4 2565.0L308.5 2564.4L309.7 2563.7L310.9 2563.1L312.1 2562.5L313.3 2561.9L314.5 2561.4L315.7 2560.8L316.9 2560.3L318.2 2559.8L319.5 2559.3L320.7 2558.8L322.0 2558.4L323.3 2558.0L324.7 2557.5L326.0 2557.1L327.3 2556.7L328.7 2556.4L330.0 2556.0L331.4 2555.6L332.8 2555.3L334.2 2555.0L335.6 2554.7L337.1 2554.4L338.5 2554.1L340.0 2553.8L341.4 2553.5L342.9 2553.3L344.4 2553.1L345.9 2552.8L347.4 2552.6L349.0 2552.4L350.5 2552.2L352.1 2552.0L353.7 2551.8L355.3 2551.7L356.9 2551.5L358.5 2551.4L360.1 2551.2L361.8 2551.1L363.4 2551.0L365.1 2550.9L366.8 2550.8L368.5 2550.7L370.2 2550.6L371.9 2550.5L373.7 2550.4L375.4 2550.3L377.2 2550.3L379.0 2550.2L380.8 2550.1L382.6 2550.1L384.4 2550.1L386.2 2550.0L388.1 2550.0L390.0 2550.0L391.8 2550.0L393.7 2549.9L395.6 2549.9L397.6 2549.9L399.5 2549.9L401.5 2550.0L403.4 2550.0L405.4 2550.0L407.4 2550.0L409.4 2550.0L411.5 2550.1L413.5 2550.1L415.6 2550.2L417.6 2550.2L419.7 2550.3L421.8 2550.3L423.9 2550.4L426.1 2550.4L428.2 2550.5L430.4 2550.6L432.5 2550.7L434.7 2550.7L436.9 2550.8L439.2 2550.9L441.4 2551.0L443.6 2551.1L445.9 2551.2L448.2 2551.3L450.5 2551.4L452.8 2551.5L455.1 2551.7L457.5 2551.8L459.8 2551.9L462.2 2552.0L464.6 2552.2L467.0 2552.3L469.4 2552.4L471.8 2552.6L474.3 2552.7L476.8 2552.9L479.2 2553.0L481.7 2553.2L484.3 2553.3L486.8 2553.5L489.3 2553.6L491.9 2553.8L494.5 2553.9L497.1 2554.1L499.7 2554.3L502.3 2554.4L504.9 2554.6L507.6 2554.8L510.3 2555.0L512.9 2555.2L515.7 2555.3L518.4 2555.5L521.1 2555.7L523.9 2555.9L526.6 2556.1L529.4 2556.3L532.2 2556.5L535.0 2556.7L537.9 2556.9L540.7 2557.1L543.6 2557.3L546.5 2557.5L549.4 2557.7L552.3 2557.9L555.2 2558.1L558.2 2558.3L561.1 2558.5L564.1 2558.7L567.1 2558.9L570.1 2559.1L573.2 2559.3L576.2 2559.5L579.3 2559.7L582.4 2560.0L585.5 2560.2L588.6 2560.4L591.7 2560.6L594.9 2560.8L598.1 2561.1L601.2 2561.3L604.4 2561.5L607.7 2561.7L610.9 2561.9L614.2 2562.2L617.4 2562.4L620.7 2562.6L624.0 2562.8L627.3 2563.0L630.7 2563.3L634.0 2563.5L637.4 2563.7L640.8 2563.9L644.2 2564.2L647.6 2564.4L651.1 2564.6L654.6 2564.8L658.0 2565.1L661.5 2565.3L665.0 2565.5L668.6 2565.7L672.1 2566.0L675.7 2566.2L679.3 2566.4L682.9 2566.6L686.5 2566.9L690.1 2567.1L693.8 2567.3L697.5 2567.5L701.2 2567.8L704.9 2568.0L708.6 2568.2L712.4 2568.4L716.1 2568.6L719.9 2568.9L723.7 2569.1L727.5 2569.3L731.4 2569.5L735.2 2569.7L739.1 2570.0L743.0 2570.2L746.9 2570.4L750.8 2570.6L754.8 2570.8L758.7 2571.1L762.7 2571.3L766.7 2571.5L770.7 2571.7L774.8 2571.9L778.8 2572.1L782.9 2572.4L787.0 2572.6L791.1 2572.8L795.2 2573.0L799.4 2573.2L803.5 2573.4L807.7 2573.6L811.9 2573.8L816.2 2574.1L820.4 2574.3L824.7 2574.5L828.9 2574.7L833.2 2574.9L837.6 2575.1L841.9 2575.3L846.2 2575.5L850.6 2575.7L855.0 2575.9L859.4 2576.1L863.9 2576.3L868.3 2576.5L872.8 2576.7L877.3 2576.9L881.8 2577.1L886.3 2577.3L890.8 2577.5L895.4 2577.7L900.0 2577.9L904.6 2578.1L909.2 2578.3L913.9 2578.5L918.5 2578.7L923.2 2578.9L927.9 2579.1L932.6 2579.3L937.4 2579.5L942.1 2579.7L946.9 2579.9L951.7 2580.1L956.5 2580.3L961.3 2580.5L966.2 2580.7L971.1 2580.9L976.0 2581.1L980.9 2581.2L985.8 2581.4L990.8 2581.6L995.7 2581.8L1000.7 2582.0L1005.8 2582.2L1010.8 2582.4L1015.8 2582.6L1020.9 2582.7L1026.0 2582.9L1031.1 2583.1L1036.3 2583.3L1041.4 2583.5L1046.6 2583.7L1051.8 2583.8L1057.0 2584.0L1062.2 2584.2L1067.5 2584.4L1072.7 2584.6L1078.0 2584.7L1083.3 2584.9L1088.7 2585.1L1094.0 2585.3L1099.4 2585.5L1104.8 2585.6L1110.2 2585.8L1115.7 2586.0L1121.1 2586.2L1126.6 2586.3L1132.1 2586.5L1137.6 2586.7L1143.1 2586.9L1148.7 2587.0L1154.3 2587.2L1159.9 2587.4L1165.5 2587.6L1171.1 2587.7L1176.8 2587.9L1182.5 2588.1L1188.2 2588.2L1193.9 2588.4L1199.6 2588.6L1205.4 2588.8L1211.2 2588.9L1217.0 2589.1L1222.8 2589.3L1228.7 2589.4L1234.5 2589.6L1240.4 2589.8L1246.3 2589.9L1252.3 2590.1L1258.2 2590.3L1264.2 2590.4L1270.2 2590.6L1276.2 2590.8L1282.2 2590.9L1288.3 2591.1L1294.4 2591.2L1300.5 2591.4L1306.6 2591.6L1312.7 2591.7L1318.9 2591.9L1325.1 2592.1L1331.3 2592.2L1337.5 2592.4L1343.8 2592.5L1350.0 2592.7L1356.3 2592.9L1362.6 2593.0L1369.0 2593.2L1375.3 2593.3L1381.7 2593.5L1388.1 2593.7L1394.5 2593.8L1401.0 2594.0L1407.4 2594.1L1413.9 2594.3L1420.4 2594.4L1426.9 2594.6L1433.5 2594.7L1440.1 2594.9L1446.7 2595.1L1453.3 2595.2L1459.9 2595.4L1466.6 2595.5L1473.2 2595.7L1479.9 2595.8L1486.7 2596.0L1493.4 2596.1L1500.2 2596.3L1507.0 2596.4L1513.8 2596.6L1520.6 2596.7L1527.5 2596.9L1534.3 2597.0L1541.2 2597.2L1548.2 2597.3L1555.1 2597.5L1562.1 2597.6L1569.1 2597.8L1576.1 2597.9L1583.1 2598.1L1590.2 2598.2L1597.2 2598.4L1604.3 2598.5L1611.5 2598.6L1618.6 2598.8L1625.8 2598.9L1632.9 2599.1L1640.2 2599.2L1647.4 2599.4L1654.6 2599.5L1661.9 2599.7L1669.2 2599.8L1676.5 2599.9L1683.9 2600.1L1691.3 2600.2L1698.6 2600.4L1706.1 2600.5L1713.5 2600.6L1720.9 2600.8L1728.4 2600.9L1735.9 2601.1L1743.5 2601.2L1751.0 2601.3" stroke="#00FFFF"/>
<path d="M242.2 3004.3L242.2 3004.3L242.2 3004.2L242.2 3004.2L242.2 3004.0L242.2 3003.8L242.2 3003.5L242.2 3003.1L242.2 3002.7L242.3 3002.1L242.3 3001.5L242.3 3000.7L242.3 2999.8L242.4 2998.9L242.4 2997.8L242.4 2996.6L242.5 2995.2L242.5 2993.8L242.6 2992.2L242.6 2990.6L242.7 2988.7L242.7 2986.8L242.8 2984.8L242.9 2982.6L243.0 2980.3L243.0 2977.8L243.1 2975.3L243.2 2972.6L243.3 2969.9L243.4 2966.9L243.5 2963.9L243.7 2960.8L243.8 2957.5L243.9 2954.2L244.0 2950.7L244.2 2947.1L244.3 2943.4L244.5 2939.6L244.6 2935.7L244.8 2931.7L244.9 2927.6L245.1 2923.4L245.3 2919.1L245.5 2914.8L245.7 2910.3L245.9 2905.7L246.1 2901.1L246.3 2896.4L246.5 2891.6L246.8 2886.7L247.0 2881.8L247.2 2876.8L247.5 2871.7L247.7 2866.6L248.0 2861.5L248.3 2856.4L248.6 2851.2L248.9 2845.9L249.1 2840.7L249.5 2835.5L249.8 2830.2L250.1 2825.0L250.4 2819.8L250.7 2814.6L251.1 2809.5L251.4 2804.3L251.8 2799.3L252.2 2794.2L252.5 2789.3L252.9 2784.4L253.3 2779.5L253.7 2774.8L254.1 2770.1L254.6 2765.5L255.0 2761.0L255.4 2756.6L255.9 2752.3L256.3 2748.1L256.8 2744.0L257.2 2740.0L257.7 2736.1L258.2 2732.3L258.7 2728.6L259.2 2725.1L259.7 2721.6L260.3 2718.3L260.8 2715.1L261.4 2711.9L261.9 2708.9L262.5 2706.0L263.0 2703.2L263.6 2700.5L264.2 2697.9L264.8 2695.4L265.4 2692.9L266.1 2690.6L266.7 2688.4L267.3 2686.2L268.0 2684.2L268.7 2682.2L269.3 2680.3L270.0 2678.4L270.7 2676.7L271.4 2675.0L272.1 2673.4L272.8 2671.8L273.6 2670.3L274.3 2668.9L275.1 2667.5L275.8 2666.2L276.6 2664.9L277.4 2663.7L278.2 2662.5L279.0 2661.4L279.8 2660.3L280.7 2659.3L281.5 2658.3L282.4 2657.3L283.2 2656.4L284.1 2655.5L285.0 2654.7L285.9 2653.9L286.8 2653.1L287.7 2652.4L288.6 2651.7L289.6 2651.0L290.5 2650.3L291.5 2649.7L292.5 2649.1L293.5 2648.5L294.5 2648.0L295.5 2647.5L296.5 2647.0L297.5 2646.5L298.6 2646.1L299.6 2645.6L300.7 2645.2L301.8 2644.8L302.9 2644.5L304.0 2644.1L305.1 2643.8L306.2 2643.5L307.4 2643.2L308.5 2643.0L309.7 2642.7L310.9 2642.5L312.1 2642.3L313.3 2642.1L314.5 2641.9L315.7 2641.7L316.9 2641.6L318.2 2641.4L319.5 2641.3L320.7 2641.2L322.0 2641.1L323.3 2641.0L324.7 2640.9L326.0 2640.9L327.3 2640.8L328.7 2640.8L330.0 2640.8L331.4 2640.8L332.8 2640.8L334.2 2640.8L335.6 2640.8L337.1 2640.8L338.5 2640.8L340.0 2640.9L341.4 2640.9L342.9 2641.0L344.4 2641.0L345.9 2641.1L347.4 2641.2L349.0 2641.3L350.5 2641.4L352.1 2641.5L353.7 2641.6L355.3 2641.7L356.9 2641.8L358.5 2641.9L360.1 2642.1L361.8 2642.2L363.4 2642.3L365.1 2642.5L366.8 2642.6L368.5 2642.8L370.2 2642.9L371.9 2643.1L373.7 2643.3L375.4 2643.4L377.2 2643.6L379.0 2643.8L380.8 2644.0L382.6 2644.2L384.4 2644.3L386.2 2644.5L388.1 2644.7L390.0 2644.9L391.8 2645.1L393.7 2645.3L395.6 2645.5L397.6 2645.7L399.5 2646.0L401.5 2646.2L403.4 2646.4L405.4 2646.6L407.4 2646.8L409.4 2647.0L411.5 2647.3L413.5 2647.5L415.6 2647.7L417.6 2648.0L419.7 2648.2L421.8 2648.4L423.9 2648.7L426.1 2648.9L428.2 2649.2L430.4 2649.4L432.5 2649.6L434.7 2649.9L436.9 2650.1L439.2 2650.4L441.4 2650.7L443.6 2650.9L445.9 2651.2L448.2 2651.4L450.5 2651.7L452.8 2651.9L455.1 2652.2L457.5 2652.5L459.8 2652.7L462.2 2653.0L464.6 2653.3L467.0 2653.5L469.4 2653.8L471.8 2654.1L474.3 2654.4L476.8 2654.6L479.2 2654.9L481.7 2655.2L484.3 2655.5L486.8 2655.8L489.3 2656.0L491.9 2656.3L494.5 2656.6L497.1 2656.9L499.7 2657.2L502.3 2657.5L504.9 2657.8L507.6 2658.0L510.3 2658.3L512.9 2658.6L515.7 2658.9L518.4 2659.2L521.1 2659.5L523.9 2659.8L526.6 2660.1L529.4 2660.4L532.2 2660.7L535.0 2661.0L537.9 2661.3L540.7 2661.6L543.6 2661.9L546.5 2662.2L549.4 2662.5L552.3 2662.8L555.2 2663.1L558.2 2663.4L561.1 2663.7L564.1 2664.0L567.1 2664.3L570.1 2664.6L573.2 2664.9L576.2 2665.2L579.3 2665.5L582.4 2665.8L585.5 2666.1L588.6 2666.4L591.7 2666.7L594.9 2667.0L598.1 2667.3L601.2 2667.6L604.4 2667.9L607.7 2668.2L610.9 2668.6L614.2 2668.9L617.4 2669.2L620.7 2669.5L624.0 2669.8L627.3 2670.1L630.7 2670.4L634.0 2670.7L637.4 2671.0L640.8 2671.3L644.2 2671.6L647.6 2671.9L651.1 2672.2L654.6 2672.5L658.0 2672.8L661.5 2673.1L665.0 2673.4L668.6 2673.7L672.1 2674.0L675.7 2674.3L679.3 2674.6L682.9 2674.9L686.5 2675.2L690.1 2675.5L693.8 2675.8L697.5 2676.1L701.2 2676.4L704.9 2676.7L708.6 2677.0L712.4 2677.3L716.1 2677.6L719.9 2677.9L723.7 2678.2L727.5 2678.4L731.4 2678.7L735.2 2679.0L739.1 2679.3L743.0 2679.6L746.9 2679.9L750.8 2680.2L754.8 2680.5L758.7 2680.8L762.7 2681.0L766.7 2681.3L770.7 2681.6L774.8 2681.9L778.8 2682.2L782.9 2682.5L787.0 2682.7L791.1 2683.0L795.2 2683.3L799.4 2683.6L803.5 2683.8L807.7 2684.1L811.9 2684.4L816.2 2684.7L820.4 2684.9L824.7 2685.2L828.9 2685.5L833.2 2685.8L837.6 2686.0L841.9 2686.3L846.2 2686.6L850.6 2686.8L855.0 2687.1L859.4 2687.4L863.9 2687.6L868.3 2687.9L872.8 2688.2L877.3 2688.4L881.8 2688.7L886.3 2688.9L890.8 2689.2L895.4 2689.5L900.0 2689.7L904.6 2690.0L909.2 2690.2L913.9 2690.5L918.5 2690.7L923.2 2691.0L927.9 2691.3L932.6 2691.5L937.4 2691.8L942.1 2692.0L946.9 2692.3L951.7 2692.5L956.5 2692.8L961.3 2693.0L966.2 2693.3L971.1 2693.5L976.0 2693.7L980.9 2694.0L985.8 2694.2L990.8 2694.5L995.7 2694.7L1000.7 2695.0L1005.8 2695.2L1010.8 2695.4L1015.8 2695.7L1020.9 2695.9L1026.0 2696.2L1031.1 2696.4L1036.3 2696.6L1041.4 2696.9L1046.6 2697.1L1051.8 2697.3L1057.0 2697.6L1062.2 2697.8L1067.5 2698.0L1072.7 2698.3L1078.0 2698.5L1083.3 2698.7L1088.7 2699.0L1094.0 2699.2L1099.4 2699.4L1104.8 2699.6L1110.2 2699.9L1115.7 2700.1L1121.1 2700.3L1126.6 2700.5L1132.1 2700.8L1137.6 2701.0L1143.1 2701.2L1148.7 2701.4L1154.3 2701.7L1159.9 2701.9L1165.5 2702.1L1171.1 2702.3L1176.8 2702.6L1182.5 2702.8L1188.2 2703.0L1193.9 2703.2L1199.6 2703.4L1205.4 2703.6L1211.2 2703.9L1217.0 2704.1L1222.8 2704.3L1228.7 2704.5L1234.5 2704.7L1240.4 2704.9L1246.3 2705.2L1252.3 2705.4L1258.2 2705.6L1264.2 2705.8L1270.2 2706.0L1276.2 2706.2L1282.2 2706.4L1288.3 2706.6L1294.4 2706.9L1300.5 2707.1L1306.6 2707.3L1312.7 2707.5L1318.9 2707.7L1325.1 2707.9L1331.3 2708.1L1337.5 2708.3L1343.8 2708.5L1350.0 2708.7L1356.3 2708.9L1362.6 2709.1L1369.0 2709.4L1375.3 2709.6L1381.7 2709.8L1388.1 2710.0L1394.5 2710.2L1401.0 2710.4L1407.4 2710.6L1413.9 2710.8L1420.4 2711.0L1426.9 2711.2L1433.5 2711.4L1440.1 2711.6L1446.7 2711.8L1453.3 2712.0L1459.9 2712.2L1466.6 2712.4L1473.2 2712.6L1479.9 2712.8L1486.7 2713.0L1493.4 2713.2L1500.2 2713.4L1507.0 2713.6L1513.8 2713.8L1520.6 2714.0L1527.5 2714.2L1534.3 2714.4L1541.2 2714.6L1548.2 2714.8L1555.1 2715.0L1562.1 2715.2L1569.1 2715.4L1576.1 2715.6L1583.1 2715.8L1590.2 2716.0L1597.2 2716.2L1604.3 2716.4L1611.5 2716.6L1618.6 2716.8L1625.8 2716.9L1632.9 2717.1L1640.2 2717.3L1647.4 2717.5L1654.6 2717.7L1661.9 2717.9L1669.2 2718.1L1676.5 2718.3L1683.9 2718.5L1691.3 2718.7L1698.6 2718.9L1706.1 2719.1L1713.5 2719.3L1720.9 2719.4L1728.4 2719.6L1735.9 2719.8L1743.5 2720.0L1751.0 2720.2" stroke="#FF0000"/>
<path d="M242.2 3004.3L242.2 3004.3L242.2 3004.3L242.2 3004.2L242.2 3004.1L242.2 3003.9L242.2 3003.7L242.2 3003.4L242.2 3003.1L242.3 3002.7L242.3 3002.2L242.3 3001.7L242.3 3001.0L242.4 3000.3L242.4 2999.5L242.4 2998.6L242.5 2997.6L242.5 2996.5L242.6 2995.3L242.6 2993.9L242.7 2992.5L242.7 2991.0L242.8 2989.3L242.9 2987.6L243.0 2985.7L243.0 2983.7L243.1 2981.6L243.2 2979.4L243.3 2977.0L243.4 2974.5L243.5 2971.9L243.7 2969.1L243.8 2966.3L243.9 2963.3L244.0 2960.2L244.2 2956.9L244.3 2953.6L244.5 2950.1L244.6 2946.5L244.8 2942.8L244.9 2939.0L245.1 2935.0L245.3 2931.0L245.5 2926.9L245.7 2922.7L245.9 2918.4L246.1 2914.0L246.3 2909.6L246.5 2905.1L246.8 2900.5L247.0 2895.9L247.2 2891.2L247.5 2886.5L247.7 2881.8L248.0 2877.1L248.3 2872.4L248.6 2867.6L248.9 2862.9L249.1 2858.2L249.5 2853.5L249.8 2848.9L250.1 2844.3L250.4 2839.8L250.7 2835.3L251.1 2830.9L251.4 2826.6L251.8 2822.3L252.2 2818.2L252.5 2814.1L252.9 2810.1L253.3 2806.3L253.7 2802.5L254.1 2798.9L254.6 2795.3L255.0 2791.9L255.4 2788.6L255.9 2785.4L256.3 2782.3L256.8 2779.3L257.2 2776.5L257.7 2773.8L258.2 2771.2L258.7 2768.7L259.2 2766.3L259.7 2764.0L260.3 2761.8L260.8 2759.8L261.4 2757.8L261.9 2755.9L262.5 2754.1L263.0 2752.4L263.6 2750.8L264.2 2749.3L264.8 2747.8L265.4 2746.5L266.1 2745.2L266.7 2743.9L267.3 2742.7L268.0 2741.6L268.7 2740.6L269.3 2739.5L270.0 2738.6L270.7 2737.7L271.4 2736.8L272.1 2736.0L272.8 2735.2L273.6 2734.4L274.3 2733.7L275.1 2733.0L275.8 2732.3L276.6 2731.7L277.4 2731.1L278.2 2730.5L279.0 2730.0L279.8 2729.4L280.7 2728.9L281.5 2728.4L282.4 2727.9L283.2 2727.5L284.1 2727.1L285.0 2726.7L285.9 2726.3L286.8 2725.9L287.7 2725.6L288.6 2725.2L289.6 2724.9L290.5 2724.6L291.5 2724.4L292.5 2724.1L293.5 2723.9L294.5 2723.7L295.5 2723.5L296.5 2723.3L297.5 2723.2L298.6 2723.1L299.6 2722.9L300.7 2722.8L301.8 2722.8L302.9 2722.7L304.0 2722.7L305.1 2722.7L306.2 2722.7L307.4 2722.7L308.5 2722.7L309.7 2722.7L310.9 2722.8L312.1 2722.9L313.3 2723.0L314.5 2723.1L315.7 2723.2L316.9 2723.4L318.2 2723.5L319.5 2723.7L320.7 2723.9L322.0 2724.1L323.3 2724.3L324.7 2724.5L326.0 2724.7L327.3 2725.0L328.7 2725.2L330.0 2725.5L331.4 2725.7L332.8 2726.0L334.2 2726.3L335.6 2726.6L337.1 2726.9L338.5 2727.2L340.0 2727.5L341.4 2727.9L342.9 2728.2L344.4 2728.5L345.9 2728.9L347.4 2729.2L349.0 2729.6L350.5 2729.9L352.1 2730.3L353.7 2730.6L355.3 2731.0L356.9 2731.4L358.5 2731.7L360.1 2732.1L361.8 2732.5L363.4 2732.9L365.1 2733.2L366.8 2733.6L368.5 2734.0L370.2 2734.4L371.9 2734.7L373.7 2735.1L375.4 2735.5L377.2 2735.9L379.0 2736.2L380.8 2736.6L382.6 2737.0L384.4 2737.3L386.2 2737.7L388.1 2738.1L390.0 2738.4L391.8 2738.8L393.7 2739.2L395.6 2739.5L397.6 2739.9L399.5 2740.3L401.5 2740.6L403.4 2741.0L405.4 2741.3L407.4 2741.7L409.4 2742.0L411.5 2742.4L413.5 2742.7L415.6 2743.1L417.6 2743.4L419.7 2743.8L421.8 2744.1L423.9 2744.5L426.1 2744.8L428.2 2745.1L430.4 2745.5L432.5 2745.8L434.7 2746.1L436.9 2746.5L439.2 2746.8L441.4 2747.1L443.6 2747.5L445.9 2747.8L448.2 2748.1L450.5 2748.5L452.8 2748.8L455.1 2749.1L457.5 2749.4L459.8 2749.8L462.2 2750.1L464.6 2750.4L467.0 2750.7L469.4 2751.1L471.8 2751.4L474.3 2751.7L476.8 2752.0L479.2 2752.4L481.7 2752.7L484.3 2753.0L486.8 2753.3L489.3 2753.7L491.9 2754.0L494.5 2754.3L497.1 2754.7L499.7 2755.0L502.3 2755.3L504.9 2755.6L507.6 2756.0L510.3 2756.3L512.9 2756.6L515.7 2757.0L518.4 2757.3L521.1 2757.6L523.9 2758.0L526.6 2758.3L529.4 2758.6L532.2 2759.0L535.0 2759.3L537.9 2759.6L540.7 2760.0L543.6 2760.3L546.5 2760.6L549.4 2761.0L552.3 2761.3L555.2 2761.7L558.2 2762.0L561.1 2762.4L564.1 2762.7L567.1 2763.1L570.1 2763.4L573.2 2763.7L576.2 2764.1L579.3 2764.4L582.4 2764.8L585.5 2765.1L588.6 2765.5L591.7 2765.8L594.9 2766.2L598.1 2766.5L601.2 2766.9L604.4 2767.2L607.7 2767.6L610.9 2768.0L614.2 2768.3L617.4 2768.7L620.7 2769.0L624.0 2769.4L627.3 2769.7L630.7 2770.1L634.0 2770.4L637.4 2770.8L640.8 2771.2L644.2 2771.5L647.6 2771.9L651.1 2772.2L654.6 2772.6L658.0 2772.9L661.5 2773.3L665.0 2773.7L668.6 2774.0L672.1 2774.4L675.7 2774.7L679.3 2775.1L682.9 2775.4L686.5 2775.8L690.1 2776.1L693.8 2776.5L697.5 2776.8L701.2 2777.2L704.9 2777.5L708.6 2777.9L712.4 2778.3L716.1 2778.6L719.9 2778.9L723.7 2779.3L727.5 2779.6L731.4 2780.0L735.2 2780.3L739.1 2780.7L743.0 2781.0L746.9 2781.4L750.8 2781.7L754.8 2782.1L758.7 2782.4L762.7 2782.7L766.7 2783.1L770.7 2783.4L774.8 2783.7L778.8 2784.1L782.9 2784.4L787.0 2784.7L791.1 2785.1L795.2 2785.4L799.4 2785.7L803.5 2786.1L807.7 2786.4L811.9 2786.7L816.2 2787.0L820.4 2787.4L824.7 2787.7L828.9 2788.0L833.2 2788.3L837.6 2788.6L841.9 2789.0L846.2 2789.3L850.6 2789.6L855.0 2789.9L859.4 2790.2L863.9 2790.5L868.3 2790.8L872.8 2791.1L877.3 2791.4L881.8 2791.7L886.3 2792.0L890.8 2792.3L895.4 2792.6L900.0 2792.9L904.6 2793.2L909.2 2793.5L913.9 2793.8L918.5 2794.1L923.2 2794.4L927.9 2794.7L932.6 2795.0L937.4 2795.3L942.1 2795.5L946.9 2795.8L951.7 2796.1L956.5 2796.4L961.3 2796.7L966.2 2796.9L971.1 2797.2L976.0 2797.5L980.9 2797.8L985.8 2798.0L990.8 2798.3L995.7 2798.6L1000.7 2798.8L1005.8 2799.1L1010.8 2799.4L1015.8 2799.6L1020.9 2799.9L1026.0 2800.2L1031.1 2800.4L1036.3 2800.7L1041.4 2801.0L1046.6 2801.2L1051.8 2801.5L1057.0 2801.7L1062.2 2802.0L1067.5 2802.2L1072.7 2802.5L1078.0 2802.7L1083.3 2803.0L1088.7 2803.2L1094.0 2803.5L1099.4 2803.7L1104.8 2804.0L1110.2 2804.2L1115.7 2804.5L1121.1 2804.7L1126.6 2804.9L1132.1 2805.2L1137.6 2805.4L1143.1 2805.7L1148.7 2805.9L1154.3 2806.1L1159.9 2806.4L1165.5 2806.6L1171.1 2806.9L1176.8 2807.1L1182.5 2807.3L1188.2 2807.6L1193.9 2807.8L1199.6 2808.0L1205.4 2808.3L1211.2 2808.5L1217.0 2808.7L1222.8 2809.0L1228.7 2809.2L1234.5 2809.4L1240.4 2809.6L1246.3 2809.9L1252.3 2810.1L1258.2 2810.3L1264.2 2810.6L1270.2 2810.8L1276.2 2811.0L1282.2 2811.2L1288.3 2811.5L1294.4 2811.7L1300.5 2811.9L1306.6 2812.1L1312.7 2812.4L1318.9 2812.6L1325.1 2812.8L1331.3 2813.0L1337.5 2813.3L1343.8 2813.5L1350.0 2813.7L1356.3 2813.9L1362.6 2814.2L1369.0 2814.4L1375.3 2814.6L1381.7 2814.8L1388.1 2815.1L1394.5 2815.3L1401.0 2815.5L1407.4 2815.7L1413.9 2815.9L1420.4 2816.2L1426.9 2816.4L1433.5 2816.6L1440.1 2816.8L1446.7 2817.1L1453.3 2817.3L1459.9 2817.5L1466.6 2817.7L1473.2 2818.0L1479.9 2818.2L1486.7 2818.4L1493.4 2818.6L1500.2 2818.9L1507.0 2819.1L1513.8 2819.3L1520.6 2819.5L1527.5 2819.8L1534.3 2820.0L1541.2 2820.2L1548.2 2820.5L1555.1 2820.7L1562.1 2820.9L1569.1 2821.1L1576.1 2821.4L1583.1 2821.6L1590.2 2821.8L1597.2 2822.1L1604.3 2822.3L1611.5 2822.5L1618.6 2822.7L1625.8 2823.0L1632.9 2823.2L1640.2 2823.4L1647.4 2823.7L1654.6 2823.9L1661.9 2824.1L1669.2 2824.4L1676.5 2824.6L1683.9 2824.9L1691.3 2825.1L1698.6 2825.3L1706.1 2825.6L1713.5 2825.8L1720.9 2826.0L1728.4 2826.3L1735.9 2826.5L1743.5 2826.8L1751.0 2827.0" stroke="#00FF00"/>
</g>
<rect x="242.2" y="2616.5" width="226.8" height="165.4" fill="#66FFFF" fill-opacity="0.5"/>
<g fill="#B41E1E" fill-opacity="0.5" shape-rendering="crispEdges">
<rect x="242" y="2615.9" width="229" height="1.2"/>
<rect x="242" y="2781.3" width="229" height="1.2"/>
<rect x="242" y="2617.1" width="1" height="164.2"/>
<rect x="469" y="2617.1" width="2" height="164.2"/>
</g>
<g font-family="'Liberation Serif','Times New Roman',serif" font-size="63.5">
<rect x="358.2" y="1839.8" width="141.3" height="5.4" fill="#000080" shape-rendering="crispEdges"/>
<text x="514.2" y="1863.5">5% glass powder</text>
<rect x="995" y="1839.8" width="142.3" height="5.4" fill="#0000FF" shape-rendering="crispEdges"/>
<text x="1149.2" y="1863.5">15%glass powder</text>
<rect x="358.2" y="1938.7" width="141.3" height="5.4" fill="#FF00FF" shape-rendering="crispEdges"/>
<text x="514.2" y="1962.4">25%glass powder</text>
<rect x="995" y="1938.7" width="142.3" height="5.4" fill="#00FFFF" shape-rendering="crispEdges"/>
<text x="1149.2" y="1962.4">35%glass powder</text>
<rect x="358.2" y="2037.6" width="141.3" height="5.4" fill="#FF0000" shape-rendering="crispEdges"/>
<text x="514.2" y="2061.3">45%glass powder</text>
<rect x="995" y="2037.6" width="142.3" height="5.4" fill="#00FF00" shape-rendering="crispEdges"/>
<text x="1149.2" y="2061.3">55%glass powder</text>
</g>
<text font-family="'Liberation Serif','Times New Roman',serif" font-size="63.5" text-anchor="middle" x="996.5" y="3194.6">Hydration time(d)</text>
<text font-family="'Liberation Serif','Times New Roman',serif" font-size="63.6" text-anchor="middle" transform="translate(51.5 2368.5) rotate(-90)">CH content(g/g)</text>
<text font-family="'Noto Sans CJK SC','Liberation Sans',sans-serif" font-weight="350" font-size="79" letter-spacing="6.5" x="202.5" y="1703.5">(b)</text>
</svg></body></html>
